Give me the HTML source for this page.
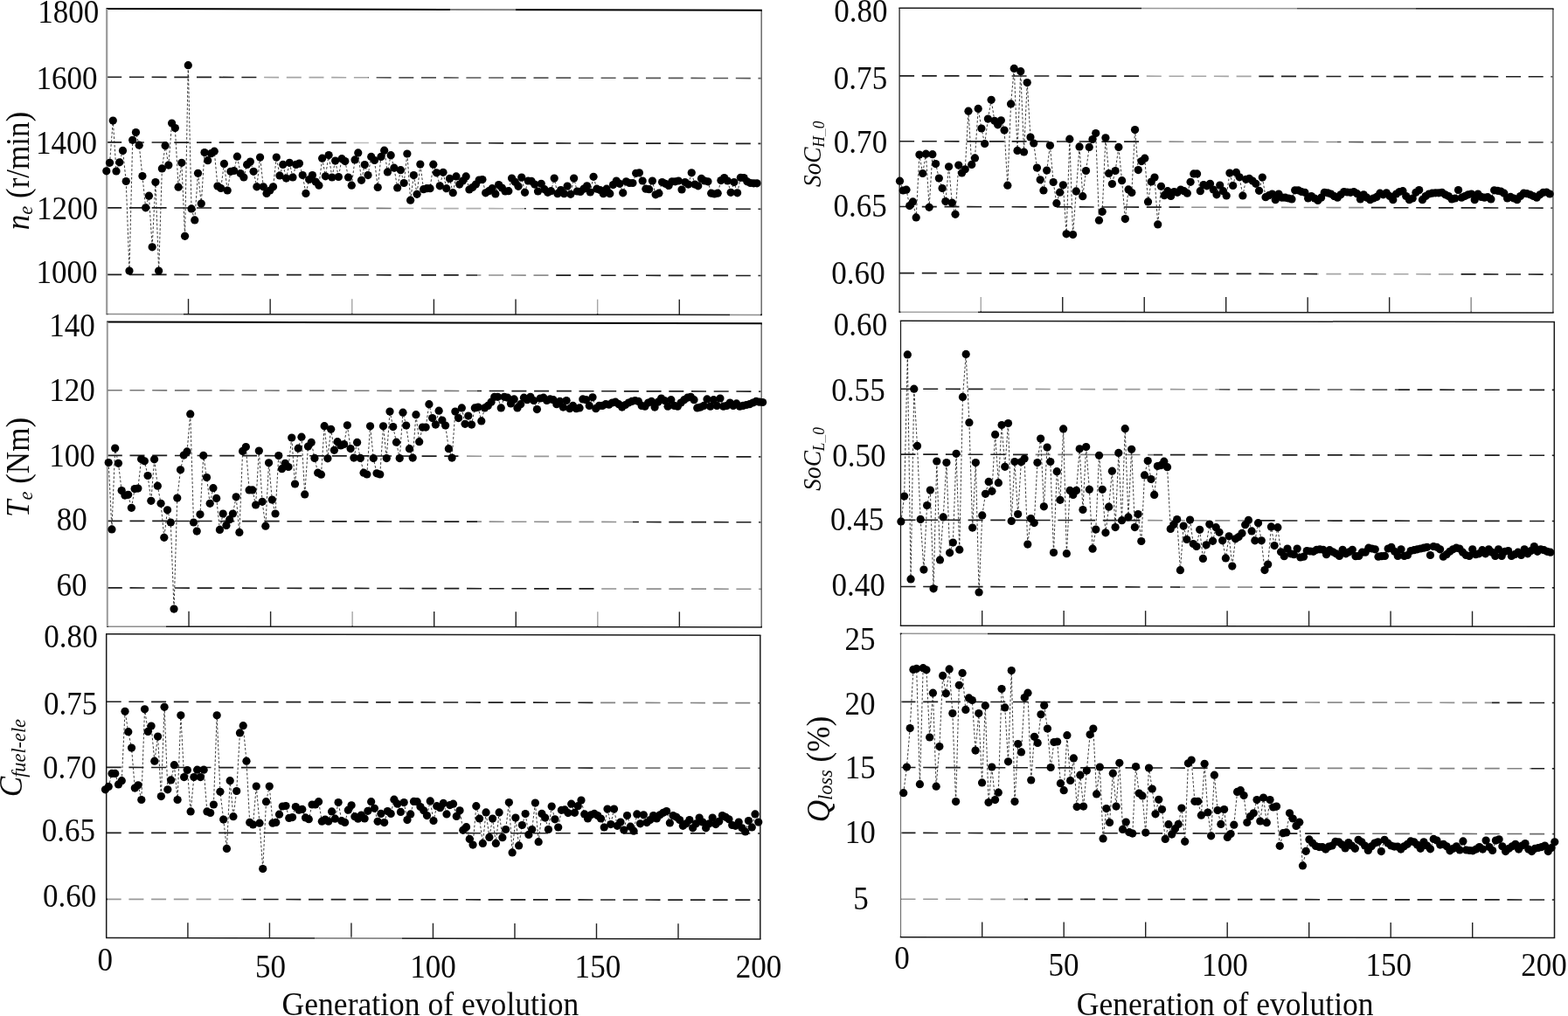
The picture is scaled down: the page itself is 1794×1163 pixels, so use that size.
<!DOCTYPE html>
<html lang="en">
<head>
<meta charset="utf-8">
<title>Generation of evolution</title>
<style>
html,body{margin:0;padding:0;background:#fff;}
body{width:1794px;height:1163px;overflow:hidden;}
svg{display:block;}
text{font-family:"Liberation Serif", "DejaVu Serif", serif;fill:#0a0a0a;}
.i{font-style:italic;}
</style>
</head>
<body>
<svg width="1794" height="1163" viewBox="0 0 1794 1163">
<rect x="0" y="0" width="1794" height="1163" fill="#ffffff"/>
<g id="p1">
<line x1="122.2" y1="88.2" x2="871.2" y2="89.6" stroke="#1e1e1e" stroke-width="1.65" stroke-dasharray="17 8.7" stroke-dashoffset="0"/>
<line x1="122.2" y1="162.9" x2="871.2" y2="164.4" stroke="#1e1e1e" stroke-width="1.65" stroke-dasharray="17 8.7" stroke-dashoffset="0"/>
<line x1="122.2" y1="237.8" x2="871.2" y2="239.3" stroke="#1e1e1e" stroke-width="1.65" stroke-dasharray="17 8.7" stroke-dashoffset="0"/>
<line x1="122.2" y1="314.3" x2="871.2" y2="315.5" stroke="#1e1e1e" stroke-width="1.65" stroke-dasharray="17 8.7" stroke-dashoffset="0"/>
<line x1="215.52" y1="342.11" x2="215.52" y2="359.61" stroke="#222" stroke-width="1.4"/>
<line x1="309.15" y1="342.23" x2="309.15" y2="359.73" stroke="#222" stroke-width="1.4"/>
<line x1="402.77" y1="342.34" x2="402.77" y2="359.84" stroke="#222" stroke-width="1.4"/>
<line x1="496.4" y1="342.45" x2="496.4" y2="359.95" stroke="#222" stroke-width="1.4"/>
<line x1="590.03" y1="342.56" x2="590.03" y2="360.06" stroke="#222" stroke-width="1.4"/>
<line x1="683.65" y1="342.67" x2="683.65" y2="360.17" stroke="#222" stroke-width="1.4"/>
<line x1="777.28" y1="342.79" x2="777.28" y2="360.29" stroke="#222" stroke-width="1.4"/>
<line x1="121.5" y1="10" x2="871.9" y2="11.7" stroke="#000" stroke-width="2.0"/>
<line x1="121.5" y1="359.5" x2="871.9" y2="360.4" stroke="#1a1a1a" stroke-width="1.5"/>
<line x1="122.2" y1="10" x2="122.2" y2="359.5" stroke="#9a9a9a" stroke-width="2.2"/>
<line x1="871.2" y1="11.7" x2="871.2" y2="360.4" stroke="#1a1a1a" stroke-width="1.5"/>
<line x1="300" y1="88.53" x2="421" y2="88.76" stroke="#fff" stroke-opacity="0.6" stroke-width="3.6"/>
<line x1="421" y1="88.76" x2="869.9" y2="89.6" stroke="#fff" stroke-opacity="0.25" stroke-width="3.6"/>
<line x1="405" y1="163.47" x2="450" y2="163.56" stroke="#fff" stroke-opacity="0.7" stroke-width="3.6"/>
<line x1="450" y1="163.56" x2="500" y2="163.66" stroke="#fff" stroke-opacity="0.4" stroke-width="3.6"/>
<line x1="405" y1="238.37" x2="450" y2="238.46" stroke="#fff" stroke-opacity="0.4" stroke-width="3.6"/>
<line x1="450" y1="238.46" x2="600" y2="238.76" stroke="#fff" stroke-opacity="0.65" stroke-width="3.6"/>
<line x1="546" y1="314.98" x2="635" y2="315.12" stroke="#fff" stroke-opacity="0.5" stroke-width="3.6"/>
<line x1="515" y1="10.89" x2="590" y2="11.06" stroke="#fff" stroke-opacity="0.5" stroke-width="3.6"/>
<line x1="123.5" y1="359.5" x2="210" y2="359.61" stroke="#fff" stroke-opacity="0.5" stroke-width="3.6"/>
<line x1="835" y1="360.36" x2="869.9" y2="360.4" stroke="#fff" stroke-opacity="0.5" stroke-width="3.6"/>
<line x1="402.77" y1="341.34" x2="402.77" y2="358.64" stroke="#fff" stroke-opacity="0.6" stroke-width="3.4"/>
<line x1="683.65" y1="341.67" x2="683.65" y2="358.97" stroke="#fff" stroke-opacity="0.6" stroke-width="3.4"/>
<line x1="871.2" y1="12.9" x2="871.2" y2="359.2" stroke="#fff" stroke-opacity="0.35" stroke-width="3.4"/>
<polyline fill="none" stroke="#262626" stroke-width="0.9" stroke-dasharray="2.7 2.1" points="121.8,195.8 125.54,186.3 129.28,138.1 133.02,196 136.76,185.8 140.5,172.4 144.24,207.5 147.98,310.1 151.72,160.3 155.46,151.6 159.2,166.2 162.94,201.6 166.68,237.8 170.42,224.2 174.16,282.8 177.9,208.5 181.64,310.1 185.38,192.9 189.12,166.7 192.86,189.1 196.6,141.1 200.34,146.6 204.08,214.2 207.82,186.3 211.56,270.3 215.3,74.7 219.04,238.9 222.78,251.9 226.52,198.3 230.26,233.1 234,174.5 237.74,183.7 241.48,175.7 245.22,173.2 248.96,213 252.7,215.5 256.44,187.4 260.18,218 263.92,196.3 267.66,195.5 271.4,179.2 275.14,198.5 278.88,203 282.62,188.4 286.36,185.1 290.1,196.3 293.84,213.8 297.58,180.1 301.32,213.8 305.06,221.4 308.8,218 312.54,213.8 316.28,180.1 320.02,201 323.76,188.4 327.5,204.1 331.24,186.3 334.98,203 338.72,188.4 342.46,187.1 346.2,200.5 349.94,221.4 353.68,205.5 357.42,200.5 361.16,208 364.9,212.2 368.64,181.2 372.38,201.8 376.12,177.6 379.86,203 383.6,184.1 387.34,202.5 391.08,181.7 394.82,184.6 398.56,203 402.3,212.2 406.04,182.9 409.78,174.9 413.52,206.3 417.26,188.6 421,200.6 424.74,179.4 428.48,183.5 432.22,214.5 435.96,179.4 439.7,172.2 443.44,196.9 447.18,177.7 450.92,192.2 454.66,215 458.4,194.7 462.14,209.5 465.88,176 469.62,229.2 473.36,200.6 477.1,222.3 480.84,188.1 484.58,216.7 488.32,215.7 492.06,215.7 495.8,188.2 499.54,197.8 503.28,212.8 507.02,197.3 510.76,215.7 514.5,204.4 518.24,220.7 521.98,201.9 525.72,211.1 529.46,207 533.2,201.9 536.94,217 540.68,214.5 544.42,211.1 548.16,206.1 551.9,205.6 555.64,220.8 559.38,218.7 563.12,215.7 566.86,222 570.6,211.6 574.34,215 578.08,219 581.82,218.7 585.56,204.1 589.3,208.3 593.04,213.3 596.78,203.1 600.52,220.3 604.26,207 608,207.3 611.74,211.1 615.48,219 619.22,210.3 622.96,216.7 626.7,220.3 630.44,218.7 634.18,204.1 637.92,221.7 641.66,217.5 645.4,221.7 649.14,213.1 652.88,222.3 656.62,204.1 660.36,219 664.1,219.5 667.84,216.2 671.58,212.8 675.32,220 679.06,202.3 682.8,216.2 686.54,217.5 690.28,221.7 694.02,216.2 697.76,221.7 701.5,211.6 705.24,207 708.98,210.3 712.72,220.8 716.46,207.8 720.2,209.5 723.94,209.5 727.68,198.3 731.42,197.8 735.16,207 738.9,216.2 742.64,216.7 746.38,207 750.12,222.8 753.86,221.2 757.6,208.6 761.34,210.3 765.08,212.5 768.82,207.8 772.56,207.8 776.3,207 780.04,217 783.78,208.6 787.52,211.1 791.26,197.8 795,211.1 798.74,212.8 802.48,204.4 806.22,207 809.96,207.8 813.7,221.2 817.44,222 821.18,221.2 824.92,206.6 828.66,203.6 832.4,207 836.14,220.3 839.88,208.6 843.62,220.8 847.36,203.3 851.1,203.6 854.84,207.8 858.58,209.5 862.32,209.8 866.06,209.8"/>
<g fill="#000"><circle cx="121.8" cy="195.8" r="4.62"/><circle cx="125.54" cy="186.3" r="4.62"/><circle cx="129.28" cy="138.1" r="4.62"/><circle cx="133.02" cy="196" r="4.62"/><circle cx="136.76" cy="185.8" r="4.62"/><circle cx="140.5" cy="172.4" r="4.62"/><circle cx="144.24" cy="207.5" r="4.62"/><circle cx="147.98" cy="310.1" r="4.62"/><circle cx="151.72" cy="160.3" r="4.62"/><circle cx="155.46" cy="151.6" r="4.62"/><circle cx="159.2" cy="166.2" r="4.62"/><circle cx="162.94" cy="201.6" r="4.62"/><circle cx="166.68" cy="237.8" r="4.62"/><circle cx="170.42" cy="224.2" r="4.62"/><circle cx="174.16" cy="282.8" r="4.62"/><circle cx="177.9" cy="208.5" r="4.62"/><circle cx="181.64" cy="310.1" r="4.62"/><circle cx="185.38" cy="192.9" r="4.62"/><circle cx="189.12" cy="166.7" r="4.62"/><circle cx="192.86" cy="189.1" r="4.62"/><circle cx="196.6" cy="141.1" r="4.62"/><circle cx="200.34" cy="146.6" r="4.62"/><circle cx="204.08" cy="214.2" r="4.62"/><circle cx="207.82" cy="186.3" r="4.62"/><circle cx="211.56" cy="270.3" r="4.62"/><circle cx="215.3" cy="74.7" r="4.62"/><circle cx="219.04" cy="238.9" r="4.62"/><circle cx="222.78" cy="251.9" r="4.62"/><circle cx="226.52" cy="198.3" r="4.62"/><circle cx="230.26" cy="233.1" r="4.62"/><circle cx="234" cy="174.5" r="4.62"/><circle cx="237.74" cy="183.7" r="4.62"/><circle cx="241.48" cy="175.7" r="4.62"/><circle cx="245.22" cy="173.2" r="4.62"/><circle cx="248.96" cy="213" r="4.62"/><circle cx="252.7" cy="215.5" r="4.62"/><circle cx="256.44" cy="187.4" r="4.62"/><circle cx="260.18" cy="218" r="4.62"/><circle cx="263.92" cy="196.3" r="4.62"/><circle cx="267.66" cy="195.5" r="4.62"/><circle cx="271.4" cy="179.2" r="4.62"/><circle cx="275.14" cy="198.5" r="4.62"/><circle cx="278.88" cy="203" r="4.62"/><circle cx="282.62" cy="188.4" r="4.62"/><circle cx="286.36" cy="185.1" r="4.62"/><circle cx="290.1" cy="196.3" r="4.62"/><circle cx="293.84" cy="213.8" r="4.62"/><circle cx="297.58" cy="180.1" r="4.62"/><circle cx="301.32" cy="213.8" r="4.62"/><circle cx="305.06" cy="221.4" r="4.62"/><circle cx="308.8" cy="218" r="4.62"/><circle cx="312.54" cy="213.8" r="4.62"/><circle cx="316.28" cy="180.1" r="4.62"/><circle cx="320.02" cy="201" r="4.62"/><circle cx="323.76" cy="188.4" r="4.62"/><circle cx="327.5" cy="204.1" r="4.62"/><circle cx="331.24" cy="186.3" r="4.62"/><circle cx="334.98" cy="203" r="4.62"/><circle cx="338.72" cy="188.4" r="4.62"/><circle cx="342.46" cy="187.1" r="4.62"/><circle cx="346.2" cy="200.5" r="4.62"/><circle cx="349.94" cy="221.4" r="4.62"/><circle cx="353.68" cy="205.5" r="4.62"/><circle cx="357.42" cy="200.5" r="4.62"/><circle cx="361.16" cy="208" r="4.62"/><circle cx="364.9" cy="212.2" r="4.62"/><circle cx="368.64" cy="181.2" r="4.62"/><circle cx="372.38" cy="201.8" r="4.62"/><circle cx="376.12" cy="177.6" r="4.62"/><circle cx="379.86" cy="203" r="4.62"/><circle cx="383.6" cy="184.1" r="4.62"/><circle cx="387.34" cy="202.5" r="4.62"/><circle cx="391.08" cy="181.7" r="4.62"/><circle cx="394.82" cy="184.6" r="4.62"/><circle cx="398.56" cy="203" r="4.62"/><circle cx="402.3" cy="212.2" r="4.62"/><circle cx="406.04" cy="182.9" r="4.62"/><circle cx="409.78" cy="174.9" r="4.62"/><circle cx="413.52" cy="206.3" r="4.62"/><circle cx="417.26" cy="188.6" r="4.62"/><circle cx="421" cy="200.6" r="4.62"/><circle cx="424.74" cy="179.4" r="4.62"/><circle cx="428.48" cy="183.5" r="4.62"/><circle cx="432.22" cy="214.5" r="4.62"/><circle cx="435.96" cy="179.4" r="4.62"/><circle cx="439.7" cy="172.2" r="4.62"/><circle cx="443.44" cy="196.9" r="4.62"/><circle cx="447.18" cy="177.7" r="4.62"/><circle cx="450.92" cy="192.2" r="4.62"/><circle cx="454.66" cy="215" r="4.62"/><circle cx="458.4" cy="194.7" r="4.62"/><circle cx="462.14" cy="209.5" r="4.62"/><circle cx="465.88" cy="176" r="4.62"/><circle cx="469.62" cy="229.2" r="4.62"/><circle cx="473.36" cy="200.6" r="4.62"/><circle cx="477.1" cy="222.3" r="4.62"/><circle cx="480.84" cy="188.1" r="4.62"/><circle cx="484.58" cy="216.7" r="4.62"/><circle cx="488.32" cy="215.7" r="4.62"/><circle cx="492.06" cy="215.7" r="4.62"/><circle cx="495.8" cy="188.2" r="4.62"/><circle cx="499.54" cy="197.8" r="4.62"/><circle cx="503.28" cy="212.8" r="4.62"/><circle cx="507.02" cy="197.3" r="4.62"/><circle cx="510.76" cy="215.7" r="4.62"/><circle cx="514.5" cy="204.4" r="4.62"/><circle cx="518.24" cy="220.7" r="4.62"/><circle cx="521.98" cy="201.9" r="4.62"/><circle cx="525.72" cy="211.1" r="4.62"/><circle cx="529.46" cy="207" r="4.62"/><circle cx="533.2" cy="201.9" r="4.62"/><circle cx="536.94" cy="217" r="4.62"/><circle cx="540.68" cy="214.5" r="4.62"/><circle cx="544.42" cy="211.1" r="4.62"/><circle cx="548.16" cy="206.1" r="4.62"/><circle cx="551.9" cy="205.6" r="4.62"/><circle cx="555.64" cy="220.8" r="4.62"/><circle cx="559.38" cy="218.7" r="4.62"/><circle cx="563.12" cy="215.7" r="4.62"/><circle cx="566.86" cy="222" r="4.62"/><circle cx="570.6" cy="211.6" r="4.62"/><circle cx="574.34" cy="215" r="4.62"/><circle cx="578.08" cy="219" r="4.62"/><circle cx="581.82" cy="218.7" r="4.62"/><circle cx="585.56" cy="204.1" r="4.62"/><circle cx="589.3" cy="208.3" r="4.62"/><circle cx="593.04" cy="213.3" r="4.62"/><circle cx="596.78" cy="203.1" r="4.62"/><circle cx="600.52" cy="220.3" r="4.62"/><circle cx="604.26" cy="207" r="4.62"/><circle cx="608" cy="207.3" r="4.62"/><circle cx="611.74" cy="211.1" r="4.62"/><circle cx="615.48" cy="219" r="4.62"/><circle cx="619.22" cy="210.3" r="4.62"/><circle cx="622.96" cy="216.7" r="4.62"/><circle cx="626.7" cy="220.3" r="4.62"/><circle cx="630.44" cy="218.7" r="4.62"/><circle cx="634.18" cy="204.1" r="4.62"/><circle cx="637.92" cy="221.7" r="4.62"/><circle cx="641.66" cy="217.5" r="4.62"/><circle cx="645.4" cy="221.7" r="4.62"/><circle cx="649.14" cy="213.1" r="4.62"/><circle cx="652.88" cy="222.3" r="4.62"/><circle cx="656.62" cy="204.1" r="4.62"/><circle cx="660.36" cy="219" r="4.62"/><circle cx="664.1" cy="219.5" r="4.62"/><circle cx="667.84" cy="216.2" r="4.62"/><circle cx="671.58" cy="212.8" r="4.62"/><circle cx="675.32" cy="220" r="4.62"/><circle cx="679.06" cy="202.3" r="4.62"/><circle cx="682.8" cy="216.2" r="4.62"/><circle cx="686.54" cy="217.5" r="4.62"/><circle cx="690.28" cy="221.7" r="4.62"/><circle cx="694.02" cy="216.2" r="4.62"/><circle cx="697.76" cy="221.7" r="4.62"/><circle cx="701.5" cy="211.6" r="4.62"/><circle cx="705.24" cy="207" r="4.62"/><circle cx="708.98" cy="210.3" r="4.62"/><circle cx="712.72" cy="220.8" r="4.62"/><circle cx="716.46" cy="207.8" r="4.62"/><circle cx="720.2" cy="209.5" r="4.62"/><circle cx="723.94" cy="209.5" r="4.62"/><circle cx="727.68" cy="198.3" r="4.62"/><circle cx="731.42" cy="197.8" r="4.62"/><circle cx="735.16" cy="207" r="4.62"/><circle cx="738.9" cy="216.2" r="4.62"/><circle cx="742.64" cy="216.7" r="4.62"/><circle cx="746.38" cy="207" r="4.62"/><circle cx="750.12" cy="222.8" r="4.62"/><circle cx="753.86" cy="221.2" r="4.62"/><circle cx="757.6" cy="208.6" r="4.62"/><circle cx="761.34" cy="210.3" r="4.62"/><circle cx="765.08" cy="212.5" r="4.62"/><circle cx="768.82" cy="207.8" r="4.62"/><circle cx="772.56" cy="207.8" r="4.62"/><circle cx="776.3" cy="207" r="4.62"/><circle cx="780.04" cy="217" r="4.62"/><circle cx="783.78" cy="208.6" r="4.62"/><circle cx="787.52" cy="211.1" r="4.62"/><circle cx="791.26" cy="197.8" r="4.62"/><circle cx="795" cy="211.1" r="4.62"/><circle cx="798.74" cy="212.8" r="4.62"/><circle cx="802.48" cy="204.4" r="4.62"/><circle cx="806.22" cy="207" r="4.62"/><circle cx="809.96" cy="207.8" r="4.62"/><circle cx="813.7" cy="221.2" r="4.62"/><circle cx="817.44" cy="222" r="4.62"/><circle cx="821.18" cy="221.2" r="4.62"/><circle cx="824.92" cy="206.6" r="4.62"/><circle cx="828.66" cy="203.6" r="4.62"/><circle cx="832.4" cy="207" r="4.62"/><circle cx="836.14" cy="220.3" r="4.62"/><circle cx="839.88" cy="208.6" r="4.62"/><circle cx="843.62" cy="220.8" r="4.62"/><circle cx="847.36" cy="203.3" r="4.62"/><circle cx="851.1" cy="203.6" r="4.62"/><circle cx="854.84" cy="207.8" r="4.62"/><circle cx="858.58" cy="209.5" r="4.62"/><circle cx="862.32" cy="209.8" r="4.62"/><circle cx="866.06" cy="209.8" r="4.62"/></g>
<text transform="translate(78.3 26) scale(0.93 1)" text-anchor="middle" font-size="37.7">1800</text>
<text transform="translate(76.5 102) scale(0.93 1)" text-anchor="middle" font-size="37.7">1600</text>
<text transform="translate(76 175.8) scale(0.93 1)" text-anchor="middle" font-size="37.7">1400</text>
<text transform="translate(77 250.5) scale(0.93 1)" text-anchor="middle" font-size="37.7">1200</text>
<text transform="translate(76.5 324.3) scale(0.93 1)" text-anchor="middle" font-size="37.7">1000</text>
</g>
<g id="p2">
<line x1="1029.1" y1="86.8" x2="1776.9" y2="87.8" stroke="#1e1e1e" stroke-width="1.65" stroke-dasharray="17 8.7" stroke-dashoffset="0"/>
<line x1="1029.1" y1="161.7" x2="1776.9" y2="162.9" stroke="#1e1e1e" stroke-width="1.65" stroke-dasharray="17 8.7" stroke-dashoffset="0"/>
<line x1="1029.1" y1="236.5" x2="1776.9" y2="238.1" stroke="#1e1e1e" stroke-width="1.65" stroke-dasharray="17 8.7" stroke-dashoffset="0"/>
<line x1="1029.1" y1="312.6" x2="1776.9" y2="314.1" stroke="#1e1e1e" stroke-width="1.65" stroke-dasharray="17 8.7" stroke-dashoffset="0"/>
<line x1="1122.27" y1="339.88" x2="1122.27" y2="357.38" stroke="#222" stroke-width="1.4"/>
<line x1="1215.75" y1="339.95" x2="1215.75" y2="357.45" stroke="#222" stroke-width="1.4"/>
<line x1="1309.23" y1="340.02" x2="1309.23" y2="357.52" stroke="#222" stroke-width="1.4"/>
<line x1="1402.7" y1="340.1" x2="1402.7" y2="357.6" stroke="#222" stroke-width="1.4"/>
<line x1="1496.17" y1="340.18" x2="1496.17" y2="357.68" stroke="#222" stroke-width="1.4"/>
<line x1="1589.65" y1="340.25" x2="1589.65" y2="357.75" stroke="#222" stroke-width="1.4"/>
<line x1="1683.13" y1="340.32" x2="1683.13" y2="357.82" stroke="#222" stroke-width="1.4"/>
<line x1="1028.4" y1="9.2" x2="1777.6" y2="10" stroke="#1a1a1a" stroke-width="1.5"/>
<line x1="1028.4" y1="357.3" x2="1777.6" y2="357.9" stroke="#1a1a1a" stroke-width="1.5"/>
<line x1="1029.1" y1="9.2" x2="1029.1" y2="357.3" stroke="#1a1a1a" stroke-width="1.25"/>
<line x1="1776.9" y1="10" x2="1776.9" y2="357.9" stroke="#1a1a1a" stroke-width="1.5"/>
<line x1="1306" y1="9.5" x2="1484" y2="9.69" stroke="#fff" stroke-opacity="0.55" stroke-width="3.6"/>
<line x1="1484" y1="9.69" x2="1620" y2="9.83" stroke="#fff" stroke-opacity="0.25" stroke-width="3.6"/>
<line x1="1306" y1="87.17" x2="1440" y2="87.35" stroke="#fff" stroke-opacity="0.6" stroke-width="3.6"/>
<line x1="1306" y1="162.14" x2="1530" y2="162.5" stroke="#fff" stroke-opacity="0.5" stroke-width="3.6"/>
<line x1="1530" y1="162.5" x2="1775.6" y2="162.9" stroke="#fff" stroke-opacity="0.25" stroke-width="3.6"/>
<line x1="1350" y1="237.19" x2="1560" y2="237.64" stroke="#fff" stroke-opacity="0.5" stroke-width="3.6"/>
<line x1="1507" y1="313.56" x2="1663" y2="313.87" stroke="#fff" stroke-opacity="0.6" stroke-width="3.6"/>
<line x1="1030.4" y1="357.3" x2="1119" y2="357.37" stroke="#fff" stroke-opacity="0.6" stroke-width="3.6"/>
<line x1="1122.27" y1="338.88" x2="1122.27" y2="356.18" stroke="#fff" stroke-opacity="0.6" stroke-width="3.4"/>
<line x1="1683.13" y1="339.32" x2="1683.13" y2="356.62" stroke="#fff" stroke-opacity="0.45" stroke-width="3.4"/>
<line x1="1776.9" y1="11.2" x2="1776.9" y2="356.7" stroke="#fff" stroke-opacity="0.3" stroke-width="3.4"/>
<polyline fill="none" stroke="#262626" stroke-width="0.9" stroke-dasharray="2.7 2.1" points="1029.5,207.2 1033.24,218 1036.97,217.2 1040.71,235.6 1044.45,230.9 1048.18,248.9 1051.92,177.1 1055.66,198.5 1059.4,176.2 1063.13,237.3 1066.87,176.7 1070.61,187.6 1074.34,204.1 1078.08,215.5 1081.82,230.6 1085.56,190.8 1089.29,232.2 1093.03,245.3 1096.77,189.1 1100.5,198 1104.24,193.8 1107.98,127.2 1111.71,188.4 1115.45,180.9 1119.19,124.4 1122.92,147 1126.66,164.5 1130.4,136.1 1134.14,114.3 1137.87,138.3 1141.61,142.8 1145.35,137.8 1149.08,149.1 1152.82,212.2 1156.56,118.9 1160.3,78.4 1164.03,172.4 1167.77,81.7 1171.51,174 1175.24,94.6 1178.98,157 1182.72,164 1186.45,192.1 1190.19,205.8 1193.93,218 1197.66,195.1 1201.4,166.5 1205.14,208.5 1208.88,232.7 1212.61,220.2 1216.35,211.8 1220.09,267.8 1223.82,159.2 1227.56,268.6 1231.3,218.9 1235.04,167.9 1238.77,224.7 1242.51,195.5 1246.25,168.4 1249.98,159.5 1253.72,152.5 1257.46,252.2 1261.19,242.3 1264.93,157.8 1268.67,198.5 1272.4,210.5 1276.14,195.5 1279.88,168.4 1283.62,206.7 1287.35,250.6 1291.09,216.9 1294.83,220.5 1298.56,148.6 1302.3,194.6 1306.04,184.6 1309.78,181.2 1313.51,230.9 1317.25,208 1320.99,203 1324.72,256.9 1328.46,213.3 1332.2,223.7 1335.93,218.7 1339.67,224.5 1343.41,219.5 1347.14,220.3 1350.88,217 1354.62,218.7 1358.36,221.2 1362.09,208.3 1365.83,198.9 1369.57,198.9 1373.3,218.7 1377.04,211.6 1380.78,212.8 1384.51,210.3 1388.25,217 1391.99,222.8 1395.73,212 1399.46,218.7 1403.2,224 1406.94,198.1 1410.67,212.5 1414.41,197.4 1418.15,202.8 1421.88,224 1425.62,205.3 1429.36,204.4 1433.1,207 1436.83,210.3 1440.57,218.3 1444.31,203.1 1448.04,225.7 1451.78,223.7 1455.52,222 1459.26,228.7 1462.99,222 1466.73,226.2 1470.47,226.2 1474.2,227 1477.94,227.9 1481.68,217.8 1485.41,217.8 1489.15,219.5 1492.89,220.3 1496.62,227 1500.36,224.5 1504.1,227 1507.84,229.5 1511.57,226.2 1515.31,220.3 1519.05,220.8 1522.78,222 1526.52,224.5 1530.26,226.2 1533.99,222.8 1537.73,219.5 1541.47,220 1545.21,220.3 1548.94,219.5 1552.68,221.7 1556.42,227.9 1560.15,222.8 1563.89,226.2 1567.63,228.7 1571.37,227 1575.1,225.4 1578.84,221.2 1582.58,222.8 1586.31,220.8 1590.05,224.5 1593.79,228.7 1597.52,222 1601.26,219.5 1605,218.7 1608.74,224.5 1612.47,228.7 1616.21,227 1619.95,220.3 1623.68,217.5 1627.42,228.7 1631.16,224.5 1634.89,222 1638.63,221.2 1642.37,220.8 1646.11,220.8 1649.84,220.3 1653.58,222.8 1657.32,224.5 1661.05,227.9 1664.79,227 1668.53,217.5 1672.26,226.2 1676,224.5 1679.74,222.8 1683.47,222 1687.21,228.7 1690.95,222 1694.69,225.4 1698.42,226.2 1702.16,225.7 1705.9,227.9 1709.63,217.8 1713.37,218.3 1717.11,219 1720.85,221.2 1724.58,227 1728.32,225.4 1732.06,227 1735.79,228.7 1739.53,224.5 1743.27,221.2 1747,221.7 1750.74,222.8 1754.48,224.5 1758.22,226.2 1761.95,222.8 1765.69,220.3 1769.43,220 1773.16,222"/>
<g fill="#000"><circle cx="1029.5" cy="207.2" r="4.62"/><circle cx="1033.24" cy="218" r="4.62"/><circle cx="1036.97" cy="217.2" r="4.62"/><circle cx="1040.71" cy="235.6" r="4.62"/><circle cx="1044.45" cy="230.9" r="4.62"/><circle cx="1048.18" cy="248.9" r="4.62"/><circle cx="1051.92" cy="177.1" r="4.62"/><circle cx="1055.66" cy="198.5" r="4.62"/><circle cx="1059.4" cy="176.2" r="4.62"/><circle cx="1063.13" cy="237.3" r="4.62"/><circle cx="1066.87" cy="176.7" r="4.62"/><circle cx="1070.61" cy="187.6" r="4.62"/><circle cx="1074.34" cy="204.1" r="4.62"/><circle cx="1078.08" cy="215.5" r="4.62"/><circle cx="1081.82" cy="230.6" r="4.62"/><circle cx="1085.56" cy="190.8" r="4.62"/><circle cx="1089.29" cy="232.2" r="4.62"/><circle cx="1093.03" cy="245.3" r="4.62"/><circle cx="1096.77" cy="189.1" r="4.62"/><circle cx="1100.5" cy="198" r="4.62"/><circle cx="1104.24" cy="193.8" r="4.62"/><circle cx="1107.98" cy="127.2" r="4.62"/><circle cx="1111.71" cy="188.4" r="4.62"/><circle cx="1115.45" cy="180.9" r="4.62"/><circle cx="1119.19" cy="124.4" r="4.62"/><circle cx="1122.92" cy="147" r="4.62"/><circle cx="1126.66" cy="164.5" r="4.62"/><circle cx="1130.4" cy="136.1" r="4.62"/><circle cx="1134.14" cy="114.3" r="4.62"/><circle cx="1137.87" cy="138.3" r="4.62"/><circle cx="1141.61" cy="142.8" r="4.62"/><circle cx="1145.35" cy="137.8" r="4.62"/><circle cx="1149.08" cy="149.1" r="4.62"/><circle cx="1152.82" cy="212.2" r="4.62"/><circle cx="1156.56" cy="118.9" r="4.62"/><circle cx="1160.3" cy="78.4" r="4.62"/><circle cx="1164.03" cy="172.4" r="4.62"/><circle cx="1167.77" cy="81.7" r="4.62"/><circle cx="1171.51" cy="174" r="4.62"/><circle cx="1175.24" cy="94.6" r="4.62"/><circle cx="1178.98" cy="157" r="4.62"/><circle cx="1182.72" cy="164" r="4.62"/><circle cx="1186.45" cy="192.1" r="4.62"/><circle cx="1190.19" cy="205.8" r="4.62"/><circle cx="1193.93" cy="218" r="4.62"/><circle cx="1197.66" cy="195.1" r="4.62"/><circle cx="1201.4" cy="166.5" r="4.62"/><circle cx="1205.14" cy="208.5" r="4.62"/><circle cx="1208.88" cy="232.7" r="4.62"/><circle cx="1212.61" cy="220.2" r="4.62"/><circle cx="1216.35" cy="211.8" r="4.62"/><circle cx="1220.09" cy="267.8" r="4.62"/><circle cx="1223.82" cy="159.2" r="4.62"/><circle cx="1227.56" cy="268.6" r="4.62"/><circle cx="1231.3" cy="218.9" r="4.62"/><circle cx="1235.04" cy="167.9" r="4.62"/><circle cx="1238.77" cy="224.7" r="4.62"/><circle cx="1242.51" cy="195.5" r="4.62"/><circle cx="1246.25" cy="168.4" r="4.62"/><circle cx="1249.98" cy="159.5" r="4.62"/><circle cx="1253.72" cy="152.5" r="4.62"/><circle cx="1257.46" cy="252.2" r="4.62"/><circle cx="1261.19" cy="242.3" r="4.62"/><circle cx="1264.93" cy="157.8" r="4.62"/><circle cx="1268.67" cy="198.5" r="4.62"/><circle cx="1272.4" cy="210.5" r="4.62"/><circle cx="1276.14" cy="195.5" r="4.62"/><circle cx="1279.88" cy="168.4" r="4.62"/><circle cx="1283.62" cy="206.7" r="4.62"/><circle cx="1287.35" cy="250.6" r="4.62"/><circle cx="1291.09" cy="216.9" r="4.62"/><circle cx="1294.83" cy="220.5" r="4.62"/><circle cx="1298.56" cy="148.6" r="4.62"/><circle cx="1302.3" cy="194.6" r="4.62"/><circle cx="1306.04" cy="184.6" r="4.62"/><circle cx="1309.78" cy="181.2" r="4.62"/><circle cx="1313.51" cy="230.9" r="4.62"/><circle cx="1317.25" cy="208" r="4.62"/><circle cx="1320.99" cy="203" r="4.62"/><circle cx="1324.72" cy="256.9" r="4.62"/><circle cx="1328.46" cy="213.3" r="4.62"/><circle cx="1332.2" cy="223.7" r="4.62"/><circle cx="1335.93" cy="218.7" r="4.62"/><circle cx="1339.67" cy="224.5" r="4.62"/><circle cx="1343.41" cy="219.5" r="4.62"/><circle cx="1347.14" cy="220.3" r="4.62"/><circle cx="1350.88" cy="217" r="4.62"/><circle cx="1354.62" cy="218.7" r="4.62"/><circle cx="1358.36" cy="221.2" r="4.62"/><circle cx="1362.09" cy="208.3" r="4.62"/><circle cx="1365.83" cy="198.9" r="4.62"/><circle cx="1369.57" cy="198.9" r="4.62"/><circle cx="1373.3" cy="218.7" r="4.62"/><circle cx="1377.04" cy="211.6" r="4.62"/><circle cx="1380.78" cy="212.8" r="4.62"/><circle cx="1384.51" cy="210.3" r="4.62"/><circle cx="1388.25" cy="217" r="4.62"/><circle cx="1391.99" cy="222.8" r="4.62"/><circle cx="1395.73" cy="212" r="4.62"/><circle cx="1399.46" cy="218.7" r="4.62"/><circle cx="1403.2" cy="224" r="4.62"/><circle cx="1406.94" cy="198.1" r="4.62"/><circle cx="1410.67" cy="212.5" r="4.62"/><circle cx="1414.41" cy="197.4" r="4.62"/><circle cx="1418.15" cy="202.8" r="4.62"/><circle cx="1421.88" cy="224" r="4.62"/><circle cx="1425.62" cy="205.3" r="4.62"/><circle cx="1429.36" cy="204.4" r="4.62"/><circle cx="1433.1" cy="207" r="4.62"/><circle cx="1436.83" cy="210.3" r="4.62"/><circle cx="1440.57" cy="218.3" r="4.62"/><circle cx="1444.31" cy="203.1" r="4.62"/><circle cx="1448.04" cy="225.7" r="4.62"/><circle cx="1451.78" cy="223.7" r="4.62"/><circle cx="1455.52" cy="222" r="4.62"/><circle cx="1459.26" cy="228.7" r="4.62"/><circle cx="1462.99" cy="222" r="4.62"/><circle cx="1466.73" cy="226.2" r="4.62"/><circle cx="1470.47" cy="226.2" r="4.62"/><circle cx="1474.2" cy="227" r="4.62"/><circle cx="1477.94" cy="227.9" r="4.62"/><circle cx="1481.68" cy="217.8" r="4.62"/><circle cx="1485.41" cy="217.8" r="4.62"/><circle cx="1489.15" cy="219.5" r="4.62"/><circle cx="1492.89" cy="220.3" r="4.62"/><circle cx="1496.62" cy="227" r="4.62"/><circle cx="1500.36" cy="224.5" r="4.62"/><circle cx="1504.1" cy="227" r="4.62"/><circle cx="1507.84" cy="229.5" r="4.62"/><circle cx="1511.57" cy="226.2" r="4.62"/><circle cx="1515.31" cy="220.3" r="4.62"/><circle cx="1519.05" cy="220.8" r="4.62"/><circle cx="1522.78" cy="222" r="4.62"/><circle cx="1526.52" cy="224.5" r="4.62"/><circle cx="1530.26" cy="226.2" r="4.62"/><circle cx="1533.99" cy="222.8" r="4.62"/><circle cx="1537.73" cy="219.5" r="4.62"/><circle cx="1541.47" cy="220" r="4.62"/><circle cx="1545.21" cy="220.3" r="4.62"/><circle cx="1548.94" cy="219.5" r="4.62"/><circle cx="1552.68" cy="221.7" r="4.62"/><circle cx="1556.42" cy="227.9" r="4.62"/><circle cx="1560.15" cy="222.8" r="4.62"/><circle cx="1563.89" cy="226.2" r="4.62"/><circle cx="1567.63" cy="228.7" r="4.62"/><circle cx="1571.37" cy="227" r="4.62"/><circle cx="1575.1" cy="225.4" r="4.62"/><circle cx="1578.84" cy="221.2" r="4.62"/><circle cx="1582.58" cy="222.8" r="4.62"/><circle cx="1586.31" cy="220.8" r="4.62"/><circle cx="1590.05" cy="224.5" r="4.62"/><circle cx="1593.79" cy="228.7" r="4.62"/><circle cx="1597.52" cy="222" r="4.62"/><circle cx="1601.26" cy="219.5" r="4.62"/><circle cx="1605" cy="218.7" r="4.62"/><circle cx="1608.74" cy="224.5" r="4.62"/><circle cx="1612.47" cy="228.7" r="4.62"/><circle cx="1616.21" cy="227" r="4.62"/><circle cx="1619.95" cy="220.3" r="4.62"/><circle cx="1623.68" cy="217.5" r="4.62"/><circle cx="1627.42" cy="228.7" r="4.62"/><circle cx="1631.16" cy="224.5" r="4.62"/><circle cx="1634.89" cy="222" r="4.62"/><circle cx="1638.63" cy="221.2" r="4.62"/><circle cx="1642.37" cy="220.8" r="4.62"/><circle cx="1646.11" cy="220.8" r="4.62"/><circle cx="1649.84" cy="220.3" r="4.62"/><circle cx="1653.58" cy="222.8" r="4.62"/><circle cx="1657.32" cy="224.5" r="4.62"/><circle cx="1661.05" cy="227.9" r="4.62"/><circle cx="1664.79" cy="227" r="4.62"/><circle cx="1668.53" cy="217.5" r="4.62"/><circle cx="1672.26" cy="226.2" r="4.62"/><circle cx="1676" cy="224.5" r="4.62"/><circle cx="1679.74" cy="222.8" r="4.62"/><circle cx="1683.47" cy="222" r="4.62"/><circle cx="1687.21" cy="228.7" r="4.62"/><circle cx="1690.95" cy="222" r="4.62"/><circle cx="1694.69" cy="225.4" r="4.62"/><circle cx="1698.42" cy="226.2" r="4.62"/><circle cx="1702.16" cy="225.7" r="4.62"/><circle cx="1705.9" cy="227.9" r="4.62"/><circle cx="1709.63" cy="217.8" r="4.62"/><circle cx="1713.37" cy="218.3" r="4.62"/><circle cx="1717.11" cy="219" r="4.62"/><circle cx="1720.85" cy="221.2" r="4.62"/><circle cx="1724.58" cy="227" r="4.62"/><circle cx="1728.32" cy="225.4" r="4.62"/><circle cx="1732.06" cy="227" r="4.62"/><circle cx="1735.79" cy="228.7" r="4.62"/><circle cx="1739.53" cy="224.5" r="4.62"/><circle cx="1743.27" cy="221.2" r="4.62"/><circle cx="1747" cy="221.7" r="4.62"/><circle cx="1750.74" cy="222.8" r="4.62"/><circle cx="1754.48" cy="224.5" r="4.62"/><circle cx="1758.22" cy="226.2" r="4.62"/><circle cx="1761.95" cy="222.8" r="4.62"/><circle cx="1765.69" cy="220.3" r="4.62"/><circle cx="1769.43" cy="220" r="4.62"/><circle cx="1773.16" cy="222" r="4.62"/></g>
<text transform="translate(984.8 25) scale(0.93 1)" text-anchor="middle" font-size="37.7">0.80</text>
<text transform="translate(984.5 101.6) scale(0.93 1)" text-anchor="middle" font-size="37.7">0.75</text>
<text transform="translate(984.5 174.5) scale(0.93 1)" text-anchor="middle" font-size="37.7">0.70</text>
<text transform="translate(984.2 247.7) scale(0.93 1)" text-anchor="middle" font-size="37.7">0.65</text>
<text transform="translate(982 325.3) scale(0.93 1)" text-anchor="middle" font-size="37.7">0.60</text>
</g>
<g id="p3">
<line x1="122.8" y1="446.7" x2="871.2" y2="448.1" stroke="#1e1e1e" stroke-width="1.65" stroke-dasharray="17 8.7" stroke-dashoffset="0"/>
<line x1="122.8" y1="521.3" x2="871.2" y2="522.9" stroke="#1e1e1e" stroke-width="1.65" stroke-dasharray="17 8.7" stroke-dashoffset="0"/>
<line x1="122.8" y1="596.3" x2="871.2" y2="597.8" stroke="#1e1e1e" stroke-width="1.65" stroke-dasharray="17 8.7" stroke-dashoffset="0"/>
<line x1="122.8" y1="672.9" x2="871.2" y2="674.3" stroke="#1e1e1e" stroke-width="1.65" stroke-dasharray="17 8.7" stroke-dashoffset="0"/>
<line x1="216.05" y1="699.79" x2="216.05" y2="717.29" stroke="#222" stroke-width="1.4"/>
<line x1="309.6" y1="699.88" x2="309.6" y2="717.38" stroke="#222" stroke-width="1.4"/>
<line x1="403.15" y1="699.96" x2="403.15" y2="717.46" stroke="#222" stroke-width="1.4"/>
<line x1="496.7" y1="700.05" x2="496.7" y2="717.55" stroke="#222" stroke-width="1.4"/>
<line x1="590.25" y1="700.14" x2="590.25" y2="717.64" stroke="#222" stroke-width="1.4"/>
<line x1="683.8" y1="700.23" x2="683.8" y2="717.73" stroke="#222" stroke-width="1.4"/>
<line x1="777.35" y1="700.31" x2="777.35" y2="717.81" stroke="#222" stroke-width="1.4"/>
<line x1="122.1" y1="368.5" x2="871.9" y2="370.3" stroke="#000" stroke-width="2.0"/>
<line x1="122.1" y1="717.2" x2="871.9" y2="717.9" stroke="#1a1a1a" stroke-width="1.5"/>
<line x1="122.8" y1="368.5" x2="122.8" y2="717.2" stroke="#9a9a9a" stroke-width="2.0"/>
<line x1="871.2" y1="370.3" x2="871.2" y2="717.9" stroke="#1a1a1a" stroke-width="1.5"/>
<line x1="124.1" y1="446.7" x2="546" y2="447.49" stroke="#fff" stroke-opacity="0.4" stroke-width="3.6"/>
<line x1="524" y1="522.16" x2="680" y2="522.49" stroke="#fff" stroke-opacity="0.55" stroke-width="3.6"/>
<line x1="546" y1="597.15" x2="724" y2="597.5" stroke="#fff" stroke-opacity="0.5" stroke-width="3.6"/>
<line x1="680" y1="673.94" x2="869.9" y2="674.3" stroke="#fff" stroke-opacity="0.5" stroke-width="3.6"/>
<line x1="124.1" y1="717.2" x2="190" y2="717.26" stroke="#fff" stroke-opacity="0.5" stroke-width="3.6"/>
<line x1="403.15" y1="698.96" x2="403.15" y2="716.26" stroke="#fff" stroke-opacity="0.6" stroke-width="3.4"/>
<line x1="683.8" y1="699.23" x2="683.8" y2="716.52" stroke="#fff" stroke-opacity="0.6" stroke-width="3.4"/>
<line x1="871.2" y1="371.5" x2="871.2" y2="716.7" stroke="#fff" stroke-opacity="0.35" stroke-width="3.4"/>
<polyline fill="none" stroke="#262626" stroke-width="0.9" stroke-dasharray="2.7 2.1" points="124.2,529.5 127.94,605.9 131.68,513.1 135.43,530.3 139.17,561.6 142.91,567.1 146.65,566.3 150.39,581.3 154.14,559.6 157.88,559.1 161.62,525.6 165.36,527.8 169.1,544.5 172.85,573.3 176.59,525.8 180.33,556.2 184.07,576.3 187.81,615.3 191.56,583.8 195.3,598 199.04,697.1 202.78,570.1 206.52,537.8 210.27,521.1 214.01,516.9 217.75,473.9 221.49,598 225.23,608.1 228.98,588.8 232.72,521.4 236.46,546.5 240.2,576.3 243.94,558.7 247.69,570.4 251.43,606.4 255.17,588 258.91,601.4 262.65,594.7 266.4,588 270.14,568.8 273.88,609.4 277.62,516.4 281.36,511.6 285.11,560.9 288.85,560.9 292.59,578 296.33,516.1 300.07,574.3 303.82,602.2 307.56,529.8 311.3,572.1 315.04,588 318.78,521.6 322.53,536.7 326.27,530.3 330.01,534.5 333.75,501 337.49,554 341.24,513.2 344.98,500.2 348.72,565.9 352.46,511.1 356.2,506.4 359.95,524.4 363.69,541.2 367.43,543.2 371.17,487.7 374.91,524.8 378.66,491.3 382.4,515.3 386.14,505.7 389.88,509.9 393.62,508.6 397.37,486.8 401.11,513.6 404.85,524.1 408.59,506.4 412.33,524.4 416.08,541.2 419.82,543 423.56,487.8 427.3,524.6 431.04,541.8 434.79,543 438.53,487.8 442.27,524.6 446.01,471.1 449.75,488.6 453.5,506.2 457.24,524.6 460.98,472.2 464.72,487 468.46,513.7 472.21,524.1 475.95,474.7 479.69,505.7 483.43,489.1 487.17,489.1 490.92,462.7 494.66,478.6 498.4,486.1 502.14,470.2 505.88,481.1 509.63,487 513.37,513.7 517.11,524.1 520.85,471.1 524.59,478.6 528.34,466.9 532.08,485.3 535.82,476.1 539.56,486.1 543.3,466.9 547.05,466.1 550.79,481.9 554.53,466.9 558.27,464.4 562.01,460.2 565.76,454.3 569.5,454.3 573.24,466.9 576.98,454.3 580.72,455.2 584.47,461.9 588.21,456.9 591.95,466.9 595.69,462.7 599.43,455.2 603.18,457.7 606.92,454.3 610.66,458.5 614.4,468.6 618.14,456 621.89,455.2 625.63,458.5 629.37,456.9 633.11,457.7 636.85,462.7 640.6,459.4 644.34,466.1 648.08,458.5 651.82,467.7 655.56,464.4 659.31,467.7 663.05,466.9 666.79,456.9 670.53,457.7 674.27,464.4 678.02,454.8 681.76,467.7 685.5,464.4 689.24,464.4 692.98,462.7 696.73,463.2 700.47,461 704.21,460.2 707.95,462.7 711.69,466.1 715.44,463.5 719.18,461 722.92,459.4 726.66,458.5 730.4,459.4 734.15,464.4 737.89,465.2 741.63,461 745.37,459.4 749.11,466.1 752.86,460.2 756.6,456 760.34,458.5 764.08,465.2 767.82,457.7 771.57,464.4 775.31,465.2 779.05,461 782.79,457.7 786.53,455.2 790.28,454.3 794.02,457.7 797.76,466.9 801.5,466.1 805.24,464.4 808.99,456.9 812.73,465.2 816.47,457.7 820.21,464.4 823.95,456 827.7,465.2 831.44,464.4 835.18,461 838.92,464.4 842.66,461.9 846.41,465.2 850.15,464.4 853.89,463.5 857.63,462.7 861.37,461 865.12,459.4 868.86,460.2 872.6,460.5"/>
<g fill="#000"><circle cx="124.2" cy="529.5" r="4.62"/><circle cx="127.94" cy="605.9" r="4.62"/><circle cx="131.68" cy="513.1" r="4.62"/><circle cx="135.43" cy="530.3" r="4.62"/><circle cx="139.17" cy="561.6" r="4.62"/><circle cx="142.91" cy="567.1" r="4.62"/><circle cx="146.65" cy="566.3" r="4.62"/><circle cx="150.39" cy="581.3" r="4.62"/><circle cx="154.14" cy="559.6" r="4.62"/><circle cx="157.88" cy="559.1" r="4.62"/><circle cx="161.62" cy="525.6" r="4.62"/><circle cx="165.36" cy="527.8" r="4.62"/><circle cx="169.1" cy="544.5" r="4.62"/><circle cx="172.85" cy="573.3" r="4.62"/><circle cx="176.59" cy="525.8" r="4.62"/><circle cx="180.33" cy="556.2" r="4.62"/><circle cx="184.07" cy="576.3" r="4.62"/><circle cx="187.81" cy="615.3" r="4.62"/><circle cx="191.56" cy="583.8" r="4.62"/><circle cx="195.3" cy="598" r="4.62"/><circle cx="199.04" cy="697.1" r="4.62"/><circle cx="202.78" cy="570.1" r="4.62"/><circle cx="206.52" cy="537.8" r="4.62"/><circle cx="210.27" cy="521.1" r="4.62"/><circle cx="214.01" cy="516.9" r="4.62"/><circle cx="217.75" cy="473.9" r="4.62"/><circle cx="221.49" cy="598" r="4.62"/><circle cx="225.23" cy="608.1" r="4.62"/><circle cx="228.98" cy="588.8" r="4.62"/><circle cx="232.72" cy="521.4" r="4.62"/><circle cx="236.46" cy="546.5" r="4.62"/><circle cx="240.2" cy="576.3" r="4.62"/><circle cx="243.94" cy="558.7" r="4.62"/><circle cx="247.69" cy="570.4" r="4.62"/><circle cx="251.43" cy="606.4" r="4.62"/><circle cx="255.17" cy="588" r="4.62"/><circle cx="258.91" cy="601.4" r="4.62"/><circle cx="262.65" cy="594.7" r="4.62"/><circle cx="266.4" cy="588" r="4.62"/><circle cx="270.14" cy="568.8" r="4.62"/><circle cx="273.88" cy="609.4" r="4.62"/><circle cx="277.62" cy="516.4" r="4.62"/><circle cx="281.36" cy="511.6" r="4.62"/><circle cx="285.11" cy="560.9" r="4.62"/><circle cx="288.85" cy="560.9" r="4.62"/><circle cx="292.59" cy="578" r="4.62"/><circle cx="296.33" cy="516.1" r="4.62"/><circle cx="300.07" cy="574.3" r="4.62"/><circle cx="303.82" cy="602.2" r="4.62"/><circle cx="307.56" cy="529.8" r="4.62"/><circle cx="311.3" cy="572.1" r="4.62"/><circle cx="315.04" cy="588" r="4.62"/><circle cx="318.78" cy="521.6" r="4.62"/><circle cx="322.53" cy="536.7" r="4.62"/><circle cx="326.27" cy="530.3" r="4.62"/><circle cx="330.01" cy="534.5" r="4.62"/><circle cx="333.75" cy="501" r="4.62"/><circle cx="337.49" cy="554" r="4.62"/><circle cx="341.24" cy="513.2" r="4.62"/><circle cx="344.98" cy="500.2" r="4.62"/><circle cx="348.72" cy="565.9" r="4.62"/><circle cx="352.46" cy="511.1" r="4.62"/><circle cx="356.2" cy="506.4" r="4.62"/><circle cx="359.95" cy="524.4" r="4.62"/><circle cx="363.69" cy="541.2" r="4.62"/><circle cx="367.43" cy="543.2" r="4.62"/><circle cx="371.17" cy="487.7" r="4.62"/><circle cx="374.91" cy="524.8" r="4.62"/><circle cx="378.66" cy="491.3" r="4.62"/><circle cx="382.4" cy="515.3" r="4.62"/><circle cx="386.14" cy="505.7" r="4.62"/><circle cx="389.88" cy="509.9" r="4.62"/><circle cx="393.62" cy="508.6" r="4.62"/><circle cx="397.37" cy="486.8" r="4.62"/><circle cx="401.11" cy="513.6" r="4.62"/><circle cx="404.85" cy="524.1" r="4.62"/><circle cx="408.59" cy="506.4" r="4.62"/><circle cx="412.33" cy="524.4" r="4.62"/><circle cx="416.08" cy="541.2" r="4.62"/><circle cx="419.82" cy="543" r="4.62"/><circle cx="423.56" cy="487.8" r="4.62"/><circle cx="427.3" cy="524.6" r="4.62"/><circle cx="431.04" cy="541.8" r="4.62"/><circle cx="434.79" cy="543" r="4.62"/><circle cx="438.53" cy="487.8" r="4.62"/><circle cx="442.27" cy="524.6" r="4.62"/><circle cx="446.01" cy="471.1" r="4.62"/><circle cx="449.75" cy="488.6" r="4.62"/><circle cx="453.5" cy="506.2" r="4.62"/><circle cx="457.24" cy="524.6" r="4.62"/><circle cx="460.98" cy="472.2" r="4.62"/><circle cx="464.72" cy="487" r="4.62"/><circle cx="468.46" cy="513.7" r="4.62"/><circle cx="472.21" cy="524.1" r="4.62"/><circle cx="475.95" cy="474.7" r="4.62"/><circle cx="479.69" cy="505.7" r="4.62"/><circle cx="483.43" cy="489.1" r="4.62"/><circle cx="487.17" cy="489.1" r="4.62"/><circle cx="490.92" cy="462.7" r="4.62"/><circle cx="494.66" cy="478.6" r="4.62"/><circle cx="498.4" cy="486.1" r="4.62"/><circle cx="502.14" cy="470.2" r="4.62"/><circle cx="505.88" cy="481.1" r="4.62"/><circle cx="509.63" cy="487" r="4.62"/><circle cx="513.37" cy="513.7" r="4.62"/><circle cx="517.11" cy="524.1" r="4.62"/><circle cx="520.85" cy="471.1" r="4.62"/><circle cx="524.59" cy="478.6" r="4.62"/><circle cx="528.34" cy="466.9" r="4.62"/><circle cx="532.08" cy="485.3" r="4.62"/><circle cx="535.82" cy="476.1" r="4.62"/><circle cx="539.56" cy="486.1" r="4.62"/><circle cx="543.3" cy="466.9" r="4.62"/><circle cx="547.05" cy="466.1" r="4.62"/><circle cx="550.79" cy="481.9" r="4.62"/><circle cx="554.53" cy="466.9" r="4.62"/><circle cx="558.27" cy="464.4" r="4.62"/><circle cx="562.01" cy="460.2" r="4.62"/><circle cx="565.76" cy="454.3" r="4.62"/><circle cx="569.5" cy="454.3" r="4.62"/><circle cx="573.24" cy="466.9" r="4.62"/><circle cx="576.98" cy="454.3" r="4.62"/><circle cx="580.72" cy="455.2" r="4.62"/><circle cx="584.47" cy="461.9" r="4.62"/><circle cx="588.21" cy="456.9" r="4.62"/><circle cx="591.95" cy="466.9" r="4.62"/><circle cx="595.69" cy="462.7" r="4.62"/><circle cx="599.43" cy="455.2" r="4.62"/><circle cx="603.18" cy="457.7" r="4.62"/><circle cx="606.92" cy="454.3" r="4.62"/><circle cx="610.66" cy="458.5" r="4.62"/><circle cx="614.4" cy="468.6" r="4.62"/><circle cx="618.14" cy="456" r="4.62"/><circle cx="621.89" cy="455.2" r="4.62"/><circle cx="625.63" cy="458.5" r="4.62"/><circle cx="629.37" cy="456.9" r="4.62"/><circle cx="633.11" cy="457.7" r="4.62"/><circle cx="636.85" cy="462.7" r="4.62"/><circle cx="640.6" cy="459.4" r="4.62"/><circle cx="644.34" cy="466.1" r="4.62"/><circle cx="648.08" cy="458.5" r="4.62"/><circle cx="651.82" cy="467.7" r="4.62"/><circle cx="655.56" cy="464.4" r="4.62"/><circle cx="659.31" cy="467.7" r="4.62"/><circle cx="663.05" cy="466.9" r="4.62"/><circle cx="666.79" cy="456.9" r="4.62"/><circle cx="670.53" cy="457.7" r="4.62"/><circle cx="674.27" cy="464.4" r="4.62"/><circle cx="678.02" cy="454.8" r="4.62"/><circle cx="681.76" cy="467.7" r="4.62"/><circle cx="685.5" cy="464.4" r="4.62"/><circle cx="689.24" cy="464.4" r="4.62"/><circle cx="692.98" cy="462.7" r="4.62"/><circle cx="696.73" cy="463.2" r="4.62"/><circle cx="700.47" cy="461" r="4.62"/><circle cx="704.21" cy="460.2" r="4.62"/><circle cx="707.95" cy="462.7" r="4.62"/><circle cx="711.69" cy="466.1" r="4.62"/><circle cx="715.44" cy="463.5" r="4.62"/><circle cx="719.18" cy="461" r="4.62"/><circle cx="722.92" cy="459.4" r="4.62"/><circle cx="726.66" cy="458.5" r="4.62"/><circle cx="730.4" cy="459.4" r="4.62"/><circle cx="734.15" cy="464.4" r="4.62"/><circle cx="737.89" cy="465.2" r="4.62"/><circle cx="741.63" cy="461" r="4.62"/><circle cx="745.37" cy="459.4" r="4.62"/><circle cx="749.11" cy="466.1" r="4.62"/><circle cx="752.86" cy="460.2" r="4.62"/><circle cx="756.6" cy="456" r="4.62"/><circle cx="760.34" cy="458.5" r="4.62"/><circle cx="764.08" cy="465.2" r="4.62"/><circle cx="767.82" cy="457.7" r="4.62"/><circle cx="771.57" cy="464.4" r="4.62"/><circle cx="775.31" cy="465.2" r="4.62"/><circle cx="779.05" cy="461" r="4.62"/><circle cx="782.79" cy="457.7" r="4.62"/><circle cx="786.53" cy="455.2" r="4.62"/><circle cx="790.28" cy="454.3" r="4.62"/><circle cx="794.02" cy="457.7" r="4.62"/><circle cx="797.76" cy="466.9" r="4.62"/><circle cx="801.5" cy="466.1" r="4.62"/><circle cx="805.24" cy="464.4" r="4.62"/><circle cx="808.99" cy="456.9" r="4.62"/><circle cx="812.73" cy="465.2" r="4.62"/><circle cx="816.47" cy="457.7" r="4.62"/><circle cx="820.21" cy="464.4" r="4.62"/><circle cx="823.95" cy="456" r="4.62"/><circle cx="827.7" cy="465.2" r="4.62"/><circle cx="831.44" cy="464.4" r="4.62"/><circle cx="835.18" cy="461" r="4.62"/><circle cx="838.92" cy="464.4" r="4.62"/><circle cx="842.66" cy="461.9" r="4.62"/><circle cx="846.41" cy="465.2" r="4.62"/><circle cx="850.15" cy="464.4" r="4.62"/><circle cx="853.89" cy="463.5" r="4.62"/><circle cx="857.63" cy="462.7" r="4.62"/><circle cx="861.37" cy="461" r="4.62"/><circle cx="865.12" cy="459.4" r="4.62"/><circle cx="868.86" cy="460.2" r="4.62"/><circle cx="872.6" cy="460.5" r="4.62"/></g>
<text transform="translate(82.6 384.5) scale(0.93 1)" text-anchor="middle" font-size="37.7">140</text>
<text transform="translate(82.6 459.3) scale(0.93 1)" text-anchor="middle" font-size="37.7">120</text>
<text transform="translate(82.6 534) scale(0.93 1)" text-anchor="middle" font-size="37.7">100</text>
<text transform="translate(82.3 606.6) scale(0.93 1)" text-anchor="middle" font-size="37.7">80</text>
<text transform="translate(82 682.4) scale(0.93 1)" text-anchor="middle" font-size="37.7">60</text>
</g>
<g id="p4">
<line x1="1030.5" y1="445.2" x2="1778.3" y2="446.4" stroke="#1e1e1e" stroke-width="1.65" stroke-dasharray="17 8.7" stroke-dashoffset="0"/>
<line x1="1030.5" y1="520.1" x2="1778.3" y2="521.3" stroke="#1e1e1e" stroke-width="1.65" stroke-dasharray="17 8.7" stroke-dashoffset="0"/>
<line x1="1030.5" y1="595.2" x2="1778.3" y2="596.5" stroke="#1e1e1e" stroke-width="1.65" stroke-dasharray="17 8.7" stroke-dashoffset="0"/>
<line x1="1030.5" y1="671.5" x2="1778.3" y2="672.8" stroke="#1e1e1e" stroke-width="1.65" stroke-dasharray="17 8.7" stroke-dashoffset="0"/>
<line x1="1123.67" y1="698.91" x2="1123.67" y2="716.41" stroke="#222" stroke-width="1.4"/>
<line x1="1217.15" y1="699.02" x2="1217.15" y2="716.52" stroke="#222" stroke-width="1.4"/>
<line x1="1310.62" y1="699.14" x2="1310.62" y2="716.64" stroke="#222" stroke-width="1.4"/>
<line x1="1404.1" y1="699.25" x2="1404.1" y2="716.75" stroke="#222" stroke-width="1.4"/>
<line x1="1497.58" y1="699.36" x2="1497.58" y2="716.86" stroke="#222" stroke-width="1.4"/>
<line x1="1591.05" y1="699.48" x2="1591.05" y2="716.98" stroke="#222" stroke-width="1.4"/>
<line x1="1684.52" y1="699.59" x2="1684.52" y2="717.09" stroke="#222" stroke-width="1.4"/>
<line x1="1029.8" y1="367.2" x2="1779" y2="368.6" stroke="#1a1a1a" stroke-width="1.5"/>
<line x1="1029.8" y1="716.3" x2="1779" y2="717.2" stroke="#1a1a1a" stroke-width="1.5"/>
<line x1="1030.5" y1="367.2" x2="1030.5" y2="716.3" stroke="#1a1a1a" stroke-width="1.25"/>
<line x1="1778.3" y1="368.6" x2="1778.3" y2="717.2" stroke="#1a1a1a" stroke-width="1.5"/>
<line x1="1128" y1="445.36" x2="1395" y2="445.78" stroke="#fff" stroke-opacity="0.55" stroke-width="3.6"/>
<line x1="1395" y1="445.78" x2="1600" y2="446.11" stroke="#fff" stroke-opacity="0.25" stroke-width="3.6"/>
<line x1="1180" y1="520.34" x2="1320" y2="520.56" stroke="#fff" stroke-opacity="0.4" stroke-width="3.6"/>
<line x1="1306" y1="595.68" x2="1440" y2="595.91" stroke="#fff" stroke-opacity="0.5" stroke-width="3.6"/>
<line x1="1350" y1="672.06" x2="1440" y2="672.21" stroke="#fff" stroke-opacity="0.5" stroke-width="3.6"/>
<polyline fill="none" stroke="#262626" stroke-width="0.9" stroke-dasharray="2.7 2.1" points="1030.9,596.9 1034.62,568.1 1038.33,405.9 1042.05,662.9 1045.76,445.2 1049.48,510.4 1053.19,594.4 1056.91,652.1 1060.62,578.5 1064.34,561.1 1068.05,673.8 1071.77,528 1075.48,640.9 1079.2,591.9 1082.91,529.6 1086.62,632.8 1090.34,621.1 1094.06,519.3 1097.77,629.2 1101.49,454.4 1105.2,405.4 1108.92,483.7 1112.63,604.1 1116.35,529.6 1120.06,678 1123.78,589.9 1127.49,565.3 1131.21,551.4 1134.92,562.3 1138.63,497.4 1142.35,552.7 1146.07,486.5 1149.78,534.3 1153.5,484.5 1157.21,596.4 1160.93,528.5 1164.64,588.5 1168.36,528.8 1172.07,525.1 1175.79,623.1 1179.5,593.5 1183.22,598.6 1186.93,529.6 1190.64,502.1 1194.36,579.8 1198.08,512.1 1201.79,528.5 1205.51,632.5 1209.22,539.7 1212.94,572.3 1216.65,490.9 1220.37,633.7 1224.08,561.4 1227.8,566.4 1231.51,561.4 1235.23,513.8 1238.94,583.5 1242.66,511.6 1246.37,560.3 1250.09,628.2 1253.8,606.1 1257.52,521.3 1261.23,560.3 1264.95,609.8 1268.66,580.2 1272.38,539.2 1276.09,603.6 1279.81,518.4 1283.52,595.7 1287.24,490.7 1290.95,591.9 1294.66,514.3 1298.38,603.6 1302.1,588.5 1305.81,619.5 1309.53,543.9 1313.24,527.5 1316.96,548.5 1320.67,566.4 1324.39,533.5 1328.1,532.7 1331.82,528.2 1335.53,534.7 1339.25,605.4 1342.96,600.4 1346.68,594.5 1350.39,652.7 1354.11,602.1 1357.82,617.5 1361.54,595.1 1365.25,622.5 1368.97,625.5 1372.68,606.3 1376.39,639.4 1380.11,623.8 1383.83,600.1 1387.54,619.3 1391.26,603.7 1394.97,609.3 1398.68,618.8 1402.4,638.9 1406.12,613.8 1409.83,648.1 1413.55,616.8 1417.26,614.6 1420.98,610.4 1424.69,600.7 1428.41,595.4 1432.12,607.9 1435.84,618.8 1439.55,598.7 1443.27,618.8 1446.98,652.6 1450.7,646.1 1454.41,602.9 1458.12,624.6 1461.84,603.7 1465.56,631.8 1469.27,636.7 1472.99,628 1476.7,633.8 1480.41,634.7 1484.13,628 1487.85,638 1491.56,637.2 1495.28,630.5 1498.99,631 1502.71,631.3 1506.42,629.3 1510.13,628.8 1513.85,629.3 1517.57,634.7 1521.28,629.7 1525,631.8 1528.71,633.8 1532.43,636.4 1536.14,629.3 1539.86,633.8 1543.57,631.8 1547.29,629.3 1551,636.7 1554.72,636.4 1558.43,632.2 1562.14,632.2 1565.86,627.2 1569.58,628 1573.29,628.8 1577.01,637.2 1580.72,636.7 1584.43,636.4 1588.15,628 1591.87,626.3 1595.58,631.3 1599.3,636.4 1603.01,628.8 1606.72,636.4 1610.44,635.5 1614.16,630.5 1617.87,629.7 1621.59,628.8 1625.3,628 1629.02,627.2 1632.73,626.3 1636.45,635.5 1640.16,625.5 1643.88,626.3 1647.59,628.8 1651.31,637.2 1655.02,634.7 1658.74,631.3 1662.45,628.8 1666.16,627.2 1669.88,628 1673.6,632.2 1677.31,635.5 1681.03,636.4 1684.74,628.8 1688.45,634.7 1692.17,633.8 1695.89,629.7 1699.6,633.8 1703.32,628.8 1707.03,632.2 1710.75,636.4 1714.46,628.8 1718.18,636.4 1721.89,631.3 1725.61,630.5 1729.32,636.4 1733.04,634.7 1736.75,632.2 1740.47,635.5 1744.18,628.8 1747.89,633.8 1751.61,630.5 1755.33,625.5 1759.04,631.3 1762.76,628.8 1766.47,629.7 1770.18,631.3 1773.9,632.2"/>
<g fill="#000"><circle cx="1030.9" cy="596.9" r="4.62"/><circle cx="1034.62" cy="568.1" r="4.62"/><circle cx="1038.33" cy="405.9" r="4.62"/><circle cx="1042.05" cy="662.9" r="4.62"/><circle cx="1045.76" cy="445.2" r="4.62"/><circle cx="1049.48" cy="510.4" r="4.62"/><circle cx="1053.19" cy="594.4" r="4.62"/><circle cx="1056.91" cy="652.1" r="4.62"/><circle cx="1060.62" cy="578.5" r="4.62"/><circle cx="1064.34" cy="561.1" r="4.62"/><circle cx="1068.05" cy="673.8" r="4.62"/><circle cx="1071.77" cy="528" r="4.62"/><circle cx="1075.48" cy="640.9" r="4.62"/><circle cx="1079.2" cy="591.9" r="4.62"/><circle cx="1082.91" cy="529.6" r="4.62"/><circle cx="1086.62" cy="632.8" r="4.62"/><circle cx="1090.34" cy="621.1" r="4.62"/><circle cx="1094.06" cy="519.3" r="4.62"/><circle cx="1097.77" cy="629.2" r="4.62"/><circle cx="1101.49" cy="454.4" r="4.62"/><circle cx="1105.2" cy="405.4" r="4.62"/><circle cx="1108.92" cy="483.7" r="4.62"/><circle cx="1112.63" cy="604.1" r="4.62"/><circle cx="1116.35" cy="529.6" r="4.62"/><circle cx="1120.06" cy="678" r="4.62"/><circle cx="1123.78" cy="589.9" r="4.62"/><circle cx="1127.49" cy="565.3" r="4.62"/><circle cx="1131.21" cy="551.4" r="4.62"/><circle cx="1134.92" cy="562.3" r="4.62"/><circle cx="1138.63" cy="497.4" r="4.62"/><circle cx="1142.35" cy="552.7" r="4.62"/><circle cx="1146.07" cy="486.5" r="4.62"/><circle cx="1149.78" cy="534.3" r="4.62"/><circle cx="1153.5" cy="484.5" r="4.62"/><circle cx="1157.21" cy="596.4" r="4.62"/><circle cx="1160.93" cy="528.5" r="4.62"/><circle cx="1164.64" cy="588.5" r="4.62"/><circle cx="1168.36" cy="528.8" r="4.62"/><circle cx="1172.07" cy="525.1" r="4.62"/><circle cx="1175.79" cy="623.1" r="4.62"/><circle cx="1179.5" cy="593.5" r="4.62"/><circle cx="1183.22" cy="598.6" r="4.62"/><circle cx="1186.93" cy="529.6" r="4.62"/><circle cx="1190.64" cy="502.1" r="4.62"/><circle cx="1194.36" cy="579.8" r="4.62"/><circle cx="1198.08" cy="512.1" r="4.62"/><circle cx="1201.79" cy="528.5" r="4.62"/><circle cx="1205.51" cy="632.5" r="4.62"/><circle cx="1209.22" cy="539.7" r="4.62"/><circle cx="1212.94" cy="572.3" r="4.62"/><circle cx="1216.65" cy="490.9" r="4.62"/><circle cx="1220.37" cy="633.7" r="4.62"/><circle cx="1224.08" cy="561.4" r="4.62"/><circle cx="1227.8" cy="566.4" r="4.62"/><circle cx="1231.51" cy="561.4" r="4.62"/><circle cx="1235.23" cy="513.8" r="4.62"/><circle cx="1238.94" cy="583.5" r="4.62"/><circle cx="1242.66" cy="511.6" r="4.62"/><circle cx="1246.37" cy="560.3" r="4.62"/><circle cx="1250.09" cy="628.2" r="4.62"/><circle cx="1253.8" cy="606.1" r="4.62"/><circle cx="1257.52" cy="521.3" r="4.62"/><circle cx="1261.23" cy="560.3" r="4.62"/><circle cx="1264.95" cy="609.8" r="4.62"/><circle cx="1268.66" cy="580.2" r="4.62"/><circle cx="1272.38" cy="539.2" r="4.62"/><circle cx="1276.09" cy="603.6" r="4.62"/><circle cx="1279.81" cy="518.4" r="4.62"/><circle cx="1283.52" cy="595.7" r="4.62"/><circle cx="1287.24" cy="490.7" r="4.62"/><circle cx="1290.95" cy="591.9" r="4.62"/><circle cx="1294.66" cy="514.3" r="4.62"/><circle cx="1298.38" cy="603.6" r="4.62"/><circle cx="1302.1" cy="588.5" r="4.62"/><circle cx="1305.81" cy="619.5" r="4.62"/><circle cx="1309.53" cy="543.9" r="4.62"/><circle cx="1313.24" cy="527.5" r="4.62"/><circle cx="1316.96" cy="548.5" r="4.62"/><circle cx="1320.67" cy="566.4" r="4.62"/><circle cx="1324.39" cy="533.5" r="4.62"/><circle cx="1328.1" cy="532.7" r="4.62"/><circle cx="1331.82" cy="528.2" r="4.62"/><circle cx="1335.53" cy="534.7" r="4.62"/><circle cx="1339.25" cy="605.4" r="4.62"/><circle cx="1342.96" cy="600.4" r="4.62"/><circle cx="1346.68" cy="594.5" r="4.62"/><circle cx="1350.39" cy="652.7" r="4.62"/><circle cx="1354.11" cy="602.1" r="4.62"/><circle cx="1357.82" cy="617.5" r="4.62"/><circle cx="1361.54" cy="595.1" r="4.62"/><circle cx="1365.25" cy="622.5" r="4.62"/><circle cx="1368.97" cy="625.5" r="4.62"/><circle cx="1372.68" cy="606.3" r="4.62"/><circle cx="1376.39" cy="639.4" r="4.62"/><circle cx="1380.11" cy="623.8" r="4.62"/><circle cx="1383.83" cy="600.1" r="4.62"/><circle cx="1387.54" cy="619.3" r="4.62"/><circle cx="1391.26" cy="603.7" r="4.62"/><circle cx="1394.97" cy="609.3" r="4.62"/><circle cx="1398.68" cy="618.8" r="4.62"/><circle cx="1402.4" cy="638.9" r="4.62"/><circle cx="1406.12" cy="613.8" r="4.62"/><circle cx="1409.83" cy="648.1" r="4.62"/><circle cx="1413.55" cy="616.8" r="4.62"/><circle cx="1417.26" cy="614.6" r="4.62"/><circle cx="1420.98" cy="610.4" r="4.62"/><circle cx="1424.69" cy="600.7" r="4.62"/><circle cx="1428.41" cy="595.4" r="4.62"/><circle cx="1432.12" cy="607.9" r="4.62"/><circle cx="1435.84" cy="618.8" r="4.62"/><circle cx="1439.55" cy="598.7" r="4.62"/><circle cx="1443.27" cy="618.8" r="4.62"/><circle cx="1446.98" cy="652.6" r="4.62"/><circle cx="1450.7" cy="646.1" r="4.62"/><circle cx="1454.41" cy="602.9" r="4.62"/><circle cx="1458.12" cy="624.6" r="4.62"/><circle cx="1461.84" cy="603.7" r="4.62"/><circle cx="1465.56" cy="631.8" r="4.62"/><circle cx="1469.27" cy="636.7" r="4.62"/><circle cx="1472.99" cy="628" r="4.62"/><circle cx="1476.7" cy="633.8" r="4.62"/><circle cx="1480.41" cy="634.7" r="4.62"/><circle cx="1484.13" cy="628" r="4.62"/><circle cx="1487.85" cy="638" r="4.62"/><circle cx="1491.56" cy="637.2" r="4.62"/><circle cx="1495.28" cy="630.5" r="4.62"/><circle cx="1498.99" cy="631" r="4.62"/><circle cx="1502.71" cy="631.3" r="4.62"/><circle cx="1506.42" cy="629.3" r="4.62"/><circle cx="1510.13" cy="628.8" r="4.62"/><circle cx="1513.85" cy="629.3" r="4.62"/><circle cx="1517.57" cy="634.7" r="4.62"/><circle cx="1521.28" cy="629.7" r="4.62"/><circle cx="1525" cy="631.8" r="4.62"/><circle cx="1528.71" cy="633.8" r="4.62"/><circle cx="1532.43" cy="636.4" r="4.62"/><circle cx="1536.14" cy="629.3" r="4.62"/><circle cx="1539.86" cy="633.8" r="4.62"/><circle cx="1543.57" cy="631.8" r="4.62"/><circle cx="1547.29" cy="629.3" r="4.62"/><circle cx="1551" cy="636.7" r="4.62"/><circle cx="1554.72" cy="636.4" r="4.62"/><circle cx="1558.43" cy="632.2" r="4.62"/><circle cx="1562.14" cy="632.2" r="4.62"/><circle cx="1565.86" cy="627.2" r="4.62"/><circle cx="1569.58" cy="628" r="4.62"/><circle cx="1573.29" cy="628.8" r="4.62"/><circle cx="1577.01" cy="637.2" r="4.62"/><circle cx="1580.72" cy="636.7" r="4.62"/><circle cx="1584.43" cy="636.4" r="4.62"/><circle cx="1588.15" cy="628" r="4.62"/><circle cx="1591.87" cy="626.3" r="4.62"/><circle cx="1595.58" cy="631.3" r="4.62"/><circle cx="1599.3" cy="636.4" r="4.62"/><circle cx="1603.01" cy="628.8" r="4.62"/><circle cx="1606.72" cy="636.4" r="4.62"/><circle cx="1610.44" cy="635.5" r="4.62"/><circle cx="1614.16" cy="630.5" r="4.62"/><circle cx="1617.87" cy="629.7" r="4.62"/><circle cx="1621.59" cy="628.8" r="4.62"/><circle cx="1625.3" cy="628" r="4.62"/><circle cx="1629.02" cy="627.2" r="4.62"/><circle cx="1632.73" cy="626.3" r="4.62"/><circle cx="1636.45" cy="635.5" r="4.62"/><circle cx="1640.16" cy="625.5" r="4.62"/><circle cx="1643.88" cy="626.3" r="4.62"/><circle cx="1647.59" cy="628.8" r="4.62"/><circle cx="1651.31" cy="637.2" r="4.62"/><circle cx="1655.02" cy="634.7" r="4.62"/><circle cx="1658.74" cy="631.3" r="4.62"/><circle cx="1662.45" cy="628.8" r="4.62"/><circle cx="1666.16" cy="627.2" r="4.62"/><circle cx="1669.88" cy="628" r="4.62"/><circle cx="1673.6" cy="632.2" r="4.62"/><circle cx="1677.31" cy="635.5" r="4.62"/><circle cx="1681.03" cy="636.4" r="4.62"/><circle cx="1684.74" cy="628.8" r="4.62"/><circle cx="1688.45" cy="634.7" r="4.62"/><circle cx="1692.17" cy="633.8" r="4.62"/><circle cx="1695.89" cy="629.7" r="4.62"/><circle cx="1699.6" cy="633.8" r="4.62"/><circle cx="1703.32" cy="628.8" r="4.62"/><circle cx="1707.03" cy="632.2" r="4.62"/><circle cx="1710.75" cy="636.4" r="4.62"/><circle cx="1714.46" cy="628.8" r="4.62"/><circle cx="1718.18" cy="636.4" r="4.62"/><circle cx="1721.89" cy="631.3" r="4.62"/><circle cx="1725.61" cy="630.5" r="4.62"/><circle cx="1729.32" cy="636.4" r="4.62"/><circle cx="1733.04" cy="634.7" r="4.62"/><circle cx="1736.75" cy="632.2" r="4.62"/><circle cx="1740.47" cy="635.5" r="4.62"/><circle cx="1744.18" cy="628.8" r="4.62"/><circle cx="1747.89" cy="633.8" r="4.62"/><circle cx="1751.61" cy="630.5" r="4.62"/><circle cx="1755.33" cy="625.5" r="4.62"/><circle cx="1759.04" cy="631.3" r="4.62"/><circle cx="1762.76" cy="628.8" r="4.62"/><circle cx="1766.47" cy="629.7" r="4.62"/><circle cx="1770.18" cy="631.3" r="4.62"/><circle cx="1773.9" cy="632.2" r="4.62"/></g>
<text transform="translate(984.5 384) scale(0.93 1)" text-anchor="middle" font-size="37.7">0.60</text>
<text transform="translate(982 459.2) scale(0.93 1)" text-anchor="middle" font-size="37.7">0.55</text>
<text transform="translate(982.8 533.6) scale(0.93 1)" text-anchor="middle" font-size="37.7">0.50</text>
<text transform="translate(980.6 606.7) scale(0.93 1)" text-anchor="middle" font-size="37.7">0.45</text>
<text transform="translate(982.2 681.6) scale(0.93 1)" text-anchor="middle" font-size="37.7">0.40</text>
</g>
<g id="p5">
<line x1="121.7" y1="803.2" x2="869.8" y2="804.7" stroke="#1e1e1e" stroke-width="1.65" stroke-dasharray="17 8.7" stroke-dashoffset="0"/>
<line x1="121.7" y1="878.4" x2="869.8" y2="879.3" stroke="#1e1e1e" stroke-width="1.65" stroke-dasharray="17 8.7" stroke-dashoffset="0"/>
<line x1="121.7" y1="953.3" x2="869.8" y2="954" stroke="#1e1e1e" stroke-width="1.65" stroke-dasharray="17 8.7" stroke-dashoffset="0"/>
<line x1="121.7" y1="1029.3" x2="869.8" y2="1030.2" stroke="#1e1e1e" stroke-width="1.65" stroke-dasharray="17 8.7" stroke-dashoffset="0"/>
<line x1="214.91" y1="1056.19" x2="214.91" y2="1073.69" stroke="#222" stroke-width="1.4"/>
<line x1="308.42" y1="1056.38" x2="308.42" y2="1073.88" stroke="#222" stroke-width="1.4"/>
<line x1="401.94" y1="1056.56" x2="401.94" y2="1074.06" stroke="#222" stroke-width="1.4"/>
<line x1="495.45" y1="1056.75" x2="495.45" y2="1074.25" stroke="#222" stroke-width="1.4"/>
<line x1="588.96" y1="1056.94" x2="588.96" y2="1074.44" stroke="#222" stroke-width="1.4"/>
<line x1="682.48" y1="1057.12" x2="682.48" y2="1074.62" stroke="#222" stroke-width="1.4"/>
<line x1="775.99" y1="1057.31" x2="775.99" y2="1074.81" stroke="#222" stroke-width="1.4"/>
<line x1="121" y1="725.8" x2="870.5" y2="727.3" stroke="#1a1a1a" stroke-width="1.5"/>
<line x1="121" y1="1073.5" x2="870.5" y2="1075" stroke="#1a1a1a" stroke-width="1.5"/>
<line x1="121.7" y1="725.8" x2="121.7" y2="1073.5" stroke="#1a1a1a" stroke-width="1.5"/>
<line x1="869.8" y1="727.3" x2="869.8" y2="1075" stroke="#1a1a1a" stroke-width="1.5"/>
<line x1="680" y1="804.32" x2="868.5" y2="804.7" stroke="#fff" stroke-opacity="0.45" stroke-width="3.6"/>
<line x1="680" y1="879.07" x2="868.5" y2="879.3" stroke="#fff" stroke-opacity="0.4" stroke-width="3.6"/>
<line x1="123" y1="1029.3" x2="278" y2="1029.49" stroke="#fff" stroke-opacity="0.55" stroke-width="3.6"/>
<line x1="360" y1="1073.98" x2="460" y2="1074.18" stroke="#fff" stroke-opacity="0.4" stroke-width="3.6"/>
<polyline fill="none" stroke="#262626" stroke-width="0.9" stroke-dasharray="2.7 2.1" points="120.5,903.8 124.25,900.4 128.01,885.4 131.76,885.4 135.52,897.9 139.28,893.7 143.03,814.3 146.78,837.7 150.54,856.1 154.3,902.1 158.05,898.8 161.81,915.5 165.56,811.8 169.31,837.4 173.07,831 176.82,871.2 180.58,843.1 184.34,911.6 188.09,809.3 191.84,903.8 195.6,892.9 199.36,875.7 203.11,915.5 206.87,818.8 210.62,889.6 214.38,881.5 218.13,928.9 221.88,889.6 225.64,881.2 229.39,889.6 233.15,881.2 236.91,928.9 240.66,930.5 244.41,921 248.17,818.8 251.92,906.3 255.68,938.1 259.44,971.4 263.19,893.7 266.94,934.7 270.7,905.5 274.45,838.9 278.21,830.7 281.97,871.2 285.72,941.4 289.48,943.9 293.23,900.1 296.99,942.2 300.74,994.5 304.5,917.7 308.25,900.1 312,942.2 315.76,941.4 319.51,932.2 323.27,923 327.02,922.5 330.78,936.4 334.53,935.6 338.29,923.5 342.04,927.2 345.8,926.4 349.56,935.9 353.31,937.7 357.06,921 360.82,921 364.57,917.7 368.33,940.2 372.08,938.1 375.84,940.2 379.59,928.9 383.35,937.2 387.11,918.5 390.86,939.7 394.62,941.4 398.37,927.2 402.12,921.8 405.88,934.7 409.63,937.2 413.39,933 417.14,937 420.9,928.3 424.65,917.7 428.41,925.3 432.16,940.3 435.92,931.4 439.68,941.6 443.43,928.6 447.19,931.4 450.94,915.2 454.69,920.2 458.45,929.4 462.2,918.6 465.96,938.6 469.71,931.9 473.47,917.4 477.22,917.7 480.98,923.6 484.74,927.8 488.49,933.6 492.25,916.9 496,939.5 499.75,922.7 503.51,924.7 507.26,919.4 511.02,931.9 514.77,921.6 518.53,920.2 522.28,934.4 526.04,927.8 529.8,950.3 533.55,946.7 537.31,960.4 541.06,967.1 544.82,922.7 548.57,937 552.33,965.4 556.08,929.9 559.84,958.4 563.59,937 567.35,965.4 571.1,929.9 574.86,958.7 578.61,949.5 582.37,918.6 586.12,975.9 589.88,936.1 593.63,967.9 597.38,944.5 601.14,931.6 604.89,955.4 608.65,949.5 612.4,919.1 616.16,963.7 619.91,931.4 623.67,936.1 627.42,949.5 631.18,923.1 634.93,937.8 638.69,947 642.44,927.3 646.2,926.9 649.96,930.6 653.71,920.2 657.47,930.3 661.22,922.7 664.98,916.1 668.73,931.9 672.49,937 676.24,932.8 680,931.4 683.75,933.6 687.5,937 691.26,947 695.01,926.1 698.77,943.6 702.52,926.1 706.28,945.3 710.03,941.1 713.79,950 717.54,933.6 721.3,946.2 725.05,951.2 728.81,931.9 732.56,942.8 736.32,932.8 740.07,941.6 743.83,938.6 747.59,933.6 751.34,937 755.1,932.8 758.85,930.3 762.61,928.6 766.36,942 770.12,933.6 773.87,935.3 777.62,938.6 781.38,945.3 785.13,942.8 788.89,938.6 792.64,947.8 796.4,942.8 800.15,936.1 803.91,941.1 807.66,947.8 811.42,942.8 815.17,936.1 818.93,943.6 822.68,940.3 826.44,933.6 830.19,935.3 833.95,937.8 837.7,944.5 841.46,945.3 845.22,941.1 848.97,947.8 852.73,952 856.48,939.5 860.24,947 863.99,931.9 867.75,941.1"/>
<g fill="#000"><circle cx="120.5" cy="903.8" r="4.62"/><circle cx="124.25" cy="900.4" r="4.62"/><circle cx="128.01" cy="885.4" r="4.62"/><circle cx="131.76" cy="885.4" r="4.62"/><circle cx="135.52" cy="897.9" r="4.62"/><circle cx="139.28" cy="893.7" r="4.62"/><circle cx="143.03" cy="814.3" r="4.62"/><circle cx="146.78" cy="837.7" r="4.62"/><circle cx="150.54" cy="856.1" r="4.62"/><circle cx="154.3" cy="902.1" r="4.62"/><circle cx="158.05" cy="898.8" r="4.62"/><circle cx="161.81" cy="915.5" r="4.62"/><circle cx="165.56" cy="811.8" r="4.62"/><circle cx="169.31" cy="837.4" r="4.62"/><circle cx="173.07" cy="831" r="4.62"/><circle cx="176.82" cy="871.2" r="4.62"/><circle cx="180.58" cy="843.1" r="4.62"/><circle cx="184.34" cy="911.6" r="4.62"/><circle cx="188.09" cy="809.3" r="4.62"/><circle cx="191.84" cy="903.8" r="4.62"/><circle cx="195.6" cy="892.9" r="4.62"/><circle cx="199.36" cy="875.7" r="4.62"/><circle cx="203.11" cy="915.5" r="4.62"/><circle cx="206.87" cy="818.8" r="4.62"/><circle cx="210.62" cy="889.6" r="4.62"/><circle cx="214.38" cy="881.5" r="4.62"/><circle cx="218.13" cy="928.9" r="4.62"/><circle cx="221.88" cy="889.6" r="4.62"/><circle cx="225.64" cy="881.2" r="4.62"/><circle cx="229.39" cy="889.6" r="4.62"/><circle cx="233.15" cy="881.2" r="4.62"/><circle cx="236.91" cy="928.9" r="4.62"/><circle cx="240.66" cy="930.5" r="4.62"/><circle cx="244.41" cy="921" r="4.62"/><circle cx="248.17" cy="818.8" r="4.62"/><circle cx="251.92" cy="906.3" r="4.62"/><circle cx="255.68" cy="938.1" r="4.62"/><circle cx="259.44" cy="971.4" r="4.62"/><circle cx="263.19" cy="893.7" r="4.62"/><circle cx="266.94" cy="934.7" r="4.62"/><circle cx="270.7" cy="905.5" r="4.62"/><circle cx="274.45" cy="838.9" r="4.62"/><circle cx="278.21" cy="830.7" r="4.62"/><circle cx="281.97" cy="871.2" r="4.62"/><circle cx="285.72" cy="941.4" r="4.62"/><circle cx="289.48" cy="943.9" r="4.62"/><circle cx="293.23" cy="900.1" r="4.62"/><circle cx="296.99" cy="942.2" r="4.62"/><circle cx="300.74" cy="994.5" r="4.62"/><circle cx="304.5" cy="917.7" r="4.62"/><circle cx="308.25" cy="900.1" r="4.62"/><circle cx="312" cy="942.2" r="4.62"/><circle cx="315.76" cy="941.4" r="4.62"/><circle cx="319.51" cy="932.2" r="4.62"/><circle cx="323.27" cy="923" r="4.62"/><circle cx="327.02" cy="922.5" r="4.62"/><circle cx="330.78" cy="936.4" r="4.62"/><circle cx="334.53" cy="935.6" r="4.62"/><circle cx="338.29" cy="923.5" r="4.62"/><circle cx="342.04" cy="927.2" r="4.62"/><circle cx="345.8" cy="926.4" r="4.62"/><circle cx="349.56" cy="935.9" r="4.62"/><circle cx="353.31" cy="937.7" r="4.62"/><circle cx="357.06" cy="921" r="4.62"/><circle cx="360.82" cy="921" r="4.62"/><circle cx="364.57" cy="917.7" r="4.62"/><circle cx="368.33" cy="940.2" r="4.62"/><circle cx="372.08" cy="938.1" r="4.62"/><circle cx="375.84" cy="940.2" r="4.62"/><circle cx="379.59" cy="928.9" r="4.62"/><circle cx="383.35" cy="937.2" r="4.62"/><circle cx="387.11" cy="918.5" r="4.62"/><circle cx="390.86" cy="939.7" r="4.62"/><circle cx="394.62" cy="941.4" r="4.62"/><circle cx="398.37" cy="927.2" r="4.62"/><circle cx="402.12" cy="921.8" r="4.62"/><circle cx="405.88" cy="934.7" r="4.62"/><circle cx="409.63" cy="937.2" r="4.62"/><circle cx="413.39" cy="933" r="4.62"/><circle cx="417.14" cy="937" r="4.62"/><circle cx="420.9" cy="928.3" r="4.62"/><circle cx="424.65" cy="917.7" r="4.62"/><circle cx="428.41" cy="925.3" r="4.62"/><circle cx="432.16" cy="940.3" r="4.62"/><circle cx="435.92" cy="931.4" r="4.62"/><circle cx="439.68" cy="941.6" r="4.62"/><circle cx="443.43" cy="928.6" r="4.62"/><circle cx="447.19" cy="931.4" r="4.62"/><circle cx="450.94" cy="915.2" r="4.62"/><circle cx="454.69" cy="920.2" r="4.62"/><circle cx="458.45" cy="929.4" r="4.62"/><circle cx="462.2" cy="918.6" r="4.62"/><circle cx="465.96" cy="938.6" r="4.62"/><circle cx="469.71" cy="931.9" r="4.62"/><circle cx="473.47" cy="917.4" r="4.62"/><circle cx="477.22" cy="917.7" r="4.62"/><circle cx="480.98" cy="923.6" r="4.62"/><circle cx="484.74" cy="927.8" r="4.62"/><circle cx="488.49" cy="933.6" r="4.62"/><circle cx="492.25" cy="916.9" r="4.62"/><circle cx="496" cy="939.5" r="4.62"/><circle cx="499.75" cy="922.7" r="4.62"/><circle cx="503.51" cy="924.7" r="4.62"/><circle cx="507.26" cy="919.4" r="4.62"/><circle cx="511.02" cy="931.9" r="4.62"/><circle cx="514.77" cy="921.6" r="4.62"/><circle cx="518.53" cy="920.2" r="4.62"/><circle cx="522.28" cy="934.4" r="4.62"/><circle cx="526.04" cy="927.8" r="4.62"/><circle cx="529.8" cy="950.3" r="4.62"/><circle cx="533.55" cy="946.7" r="4.62"/><circle cx="537.31" cy="960.4" r="4.62"/><circle cx="541.06" cy="967.1" r="4.62"/><circle cx="544.82" cy="922.7" r="4.62"/><circle cx="548.57" cy="937" r="4.62"/><circle cx="552.33" cy="965.4" r="4.62"/><circle cx="556.08" cy="929.9" r="4.62"/><circle cx="559.84" cy="958.4" r="4.62"/><circle cx="563.59" cy="937" r="4.62"/><circle cx="567.35" cy="965.4" r="4.62"/><circle cx="571.1" cy="929.9" r="4.62"/><circle cx="574.86" cy="958.7" r="4.62"/><circle cx="578.61" cy="949.5" r="4.62"/><circle cx="582.37" cy="918.6" r="4.62"/><circle cx="586.12" cy="975.9" r="4.62"/><circle cx="589.88" cy="936.1" r="4.62"/><circle cx="593.63" cy="967.9" r="4.62"/><circle cx="597.38" cy="944.5" r="4.62"/><circle cx="601.14" cy="931.6" r="4.62"/><circle cx="604.89" cy="955.4" r="4.62"/><circle cx="608.65" cy="949.5" r="4.62"/><circle cx="612.4" cy="919.1" r="4.62"/><circle cx="616.16" cy="963.7" r="4.62"/><circle cx="619.91" cy="931.4" r="4.62"/><circle cx="623.67" cy="936.1" r="4.62"/><circle cx="627.42" cy="949.5" r="4.62"/><circle cx="631.18" cy="923.1" r="4.62"/><circle cx="634.93" cy="937.8" r="4.62"/><circle cx="638.69" cy="947" r="4.62"/><circle cx="642.44" cy="927.3" r="4.62"/><circle cx="646.2" cy="926.9" r="4.62"/><circle cx="649.96" cy="930.6" r="4.62"/><circle cx="653.71" cy="920.2" r="4.62"/><circle cx="657.47" cy="930.3" r="4.62"/><circle cx="661.22" cy="922.7" r="4.62"/><circle cx="664.98" cy="916.1" r="4.62"/><circle cx="668.73" cy="931.9" r="4.62"/><circle cx="672.49" cy="937" r="4.62"/><circle cx="676.24" cy="932.8" r="4.62"/><circle cx="680" cy="931.4" r="4.62"/><circle cx="683.75" cy="933.6" r="4.62"/><circle cx="687.5" cy="937" r="4.62"/><circle cx="691.26" cy="947" r="4.62"/><circle cx="695.01" cy="926.1" r="4.62"/><circle cx="698.77" cy="943.6" r="4.62"/><circle cx="702.52" cy="926.1" r="4.62"/><circle cx="706.28" cy="945.3" r="4.62"/><circle cx="710.03" cy="941.1" r="4.62"/><circle cx="713.79" cy="950" r="4.62"/><circle cx="717.54" cy="933.6" r="4.62"/><circle cx="721.3" cy="946.2" r="4.62"/><circle cx="725.05" cy="951.2" r="4.62"/><circle cx="728.81" cy="931.9" r="4.62"/><circle cx="732.56" cy="942.8" r="4.62"/><circle cx="736.32" cy="932.8" r="4.62"/><circle cx="740.07" cy="941.6" r="4.62"/><circle cx="743.83" cy="938.6" r="4.62"/><circle cx="747.59" cy="933.6" r="4.62"/><circle cx="751.34" cy="937" r="4.62"/><circle cx="755.1" cy="932.8" r="4.62"/><circle cx="758.85" cy="930.3" r="4.62"/><circle cx="762.61" cy="928.6" r="4.62"/><circle cx="766.36" cy="942" r="4.62"/><circle cx="770.12" cy="933.6" r="4.62"/><circle cx="773.87" cy="935.3" r="4.62"/><circle cx="777.62" cy="938.6" r="4.62"/><circle cx="781.38" cy="945.3" r="4.62"/><circle cx="785.13" cy="942.8" r="4.62"/><circle cx="788.89" cy="938.6" r="4.62"/><circle cx="792.64" cy="947.8" r="4.62"/><circle cx="796.4" cy="942.8" r="4.62"/><circle cx="800.15" cy="936.1" r="4.62"/><circle cx="803.91" cy="941.1" r="4.62"/><circle cx="807.66" cy="947.8" r="4.62"/><circle cx="811.42" cy="942.8" r="4.62"/><circle cx="815.17" cy="936.1" r="4.62"/><circle cx="818.93" cy="943.6" r="4.62"/><circle cx="822.68" cy="940.3" r="4.62"/><circle cx="826.44" cy="933.6" r="4.62"/><circle cx="830.19" cy="935.3" r="4.62"/><circle cx="833.95" cy="937.8" r="4.62"/><circle cx="837.7" cy="944.5" r="4.62"/><circle cx="841.46" cy="945.3" r="4.62"/><circle cx="845.22" cy="941.1" r="4.62"/><circle cx="848.97" cy="947.8" r="4.62"/><circle cx="852.73" cy="952" r="4.62"/><circle cx="856.48" cy="939.5" r="4.62"/><circle cx="860.24" cy="947" r="4.62"/><circle cx="863.99" cy="931.9" r="4.62"/><circle cx="867.75" cy="941.1" r="4.62"/></g>
<text transform="translate(81 740.6) scale(0.93 1)" text-anchor="middle" font-size="37.7">0.80</text>
<text transform="translate(80.6 818) scale(0.93 1)" text-anchor="middle" font-size="37.7">0.75</text>
<text transform="translate(79.6 891.3) scale(0.93 1)" text-anchor="middle" font-size="37.7">0.70</text>
<text transform="translate(78.4 963) scale(0.93 1)" text-anchor="middle" font-size="37.7">0.65</text>
<text transform="translate(79.6 1038.2) scale(0.93 1)" text-anchor="middle" font-size="37.7">0.60</text>
</g>
<g id="p6">
<line x1="1030.5" y1="803.3" x2="1778.5" y2="804.5" stroke="#1e1e1e" stroke-width="1.65" stroke-dasharray="17 8.7" stroke-dashoffset="0"/>
<line x1="1030.5" y1="878.5" x2="1778.5" y2="879.8" stroke="#1e1e1e" stroke-width="1.65" stroke-dasharray="17 8.7" stroke-dashoffset="0"/>
<line x1="1030.5" y1="953.4" x2="1778.5" y2="954.6" stroke="#1e1e1e" stroke-width="1.65" stroke-dasharray="17 8.7" stroke-dashoffset="0"/>
<line x1="1030.5" y1="1029.2" x2="1778.5" y2="1030" stroke="#1e1e1e" stroke-width="1.65" stroke-dasharray="17 8.7" stroke-dashoffset="0"/>
<line x1="1123.7" y1="1055.4" x2="1123.7" y2="1072.9" stroke="#222" stroke-width="1.4"/>
<line x1="1217.2" y1="1055.5" x2="1217.2" y2="1073" stroke="#222" stroke-width="1.4"/>
<line x1="1310.7" y1="1055.6" x2="1310.7" y2="1073.1" stroke="#222" stroke-width="1.4"/>
<line x1="1404.2" y1="1055.7" x2="1404.2" y2="1073.2" stroke="#222" stroke-width="1.4"/>
<line x1="1497.7" y1="1055.8" x2="1497.7" y2="1073.3" stroke="#222" stroke-width="1.4"/>
<line x1="1591.2" y1="1055.9" x2="1591.2" y2="1073.4" stroke="#222" stroke-width="1.4"/>
<line x1="1684.7" y1="1056" x2="1684.7" y2="1073.5" stroke="#222" stroke-width="1.4"/>
<line x1="1029.8" y1="725.3" x2="1779.2" y2="726.5" stroke="#1a1a1a" stroke-width="1.5"/>
<line x1="1029.8" y1="1072.8" x2="1779.2" y2="1073.6" stroke="#1a1a1a" stroke-width="1.5"/>
<line x1="1030.5" y1="725.3" x2="1030.5" y2="1072.8" stroke="#1a1a1a" stroke-width="1.25"/>
<line x1="1778.5" y1="726.5" x2="1778.5" y2="1073.6" stroke="#1a1a1a" stroke-width="1.5"/>
<line x1="1484" y1="804.03" x2="1707" y2="804.39" stroke="#fff" stroke-opacity="0.5" stroke-width="3.6"/>
<line x1="1484" y1="879.29" x2="1752" y2="879.75" stroke="#fff" stroke-opacity="0.45" stroke-width="3.6"/>
<line x1="1520" y1="954.19" x2="1777.2" y2="954.6" stroke="#fff" stroke-opacity="0.35" stroke-width="3.6"/>
<line x1="1031.8" y1="1029.2" x2="1172" y2="1029.35" stroke="#fff" stroke-opacity="0.55" stroke-width="3.6"/>
<line x1="1031.8" y1="725.3" x2="1130" y2="725.46" stroke="#fff" stroke-opacity="0.55" stroke-width="3.6"/>
<line x1="1030.5" y1="726.5" x2="1030.5" y2="1071.6" stroke="#fff" stroke-opacity="0.4" stroke-width="3.4"/>
<polyline fill="none" stroke="#262626" stroke-width="0.9" stroke-dasharray="2.7 2.1" points="1033.7,907.7 1037.44,878 1041.19,833.6 1044.93,766.4 1048.68,765.4 1052.42,897.7 1056.16,764.7 1059.91,766.8 1063.65,844 1067.4,793.2 1071.14,900.2 1074.88,854.5 1078.63,773.4 1082.37,793.8 1086.12,765.9 1089.86,816.6 1093.6,917.6 1097.35,784.3 1101.09,770.4 1104.84,812.4 1108.58,798.9 1112.32,801.5 1116.07,859.1 1119.81,816.6 1123.56,895.9 1127.3,807.7 1131.04,918.6 1134.79,878 1138.53,915.6 1142.28,907.2 1146.02,788.5 1149.76,809.9 1153.51,871.8 1157.25,767.6 1161,917.6 1164.74,851.5 1168.48,860.9 1172.23,798.5 1175.97,793.2 1179.72,893 1183.46,843.3 1187.2,850.4 1190.95,817.8 1194.69,807.4 1198.44,834.1 1202.18,878.5 1205.92,849.5 1209.67,849 1213.41,896.7 1217.16,904.7 1220.9,841.7 1224.64,893.5 1228.39,867.9 1232.13,923.6 1235.88,887.2 1239.62,923.1 1243.36,882.1 1247.11,840.8 1250.85,834 1254.6,908.9 1258.34,878 1262.08,959.9 1265.83,925.6 1269.57,941.5 1273.32,885.2 1277.06,923.1 1280.8,873.3 1284.55,949.4 1288.29,941 1292.04,952.7 1295.78,954.1 1299.52,877.6 1303.27,908.1 1307.01,910.9 1310.76,953.1 1314.5,879.1 1318.24,903 1321.99,931.8 1325.73,915.3 1329.48,926.5 1333.22,960.4 1336.96,943.7 1340.71,955.1 1344.45,948.7 1348.2,943.4 1351.94,925 1355.68,963.3 1359.43,873.8 1363.17,870.1 1366.92,917.3 1370.66,917.3 1374.4,933.2 1378.15,874.3 1381.89,930 1385.64,956.8 1389.38,887.2 1393.12,927.5 1396.87,943.4 1400.61,926.5 1404.36,958.4 1408.1,954.6 1411.84,944.2 1415.59,906.4 1419.33,904.7 1423.08,910.6 1426.82,941.5 1430.56,934.5 1434.31,930.8 1438.05,915.6 1441.8,940 1445.54,913.1 1449.28,941.7 1453.03,915.6 1456.77,924 1460.52,923.1 1464.26,968.3 1468,953.7 1471.75,952.9 1475.49,930.8 1479.24,937 1482.98,945.4 1486.72,941.2 1490.47,990.9 1494.21,974.3 1497.96,960.9 1501.7,965.1 1505.44,968.5 1509.19,969.6 1512.93,969.6 1516.68,972.1 1520.42,969.1 1524.16,968 1527.91,963.4 1531.65,963.8 1535.4,966.8 1539.14,971 1542.88,964.6 1546.63,968 1550.37,971.3 1554.12,961.3 1557.86,963.8 1561.6,968 1565.35,973.5 1569.09,968.8 1572.84,965.1 1576.58,963.8 1580.32,974.6 1584.07,961.3 1587.81,965.1 1591.56,968 1595.3,969.1 1599.04,969.1 1602.79,972.1 1606.53,968.8 1610.28,966.3 1614.02,962.9 1617.76,963.8 1621.51,967.1 1625.25,971.3 1629,963.8 1632.74,968 1636.48,971.8 1640.23,960.4 1643.97,962.1 1647.72,967.1 1651.46,966.3 1655.2,968.8 1658.95,973.8 1662.69,971.3 1666.44,968.8 1670.18,973 1673.92,962.9 1677.67,973 1681.41,973.5 1685.16,973.8 1688.9,972.1 1692.64,969.6 1696.39,972.1 1700.13,962.1 1703.88,969.6 1707.62,973.5 1711.36,962.1 1715.11,960.8 1718.85,968.8 1722.6,974.6 1726.34,971.3 1730.08,968.8 1733.83,966.3 1737.57,972.1 1741.32,968 1745.06,965.5 1748.8,972.1 1752.55,974.6 1756.29,971.3 1760.04,970.5 1763.78,969.6 1767.52,968 1771.27,974.6 1775.01,970.5 1778.76,963.8"/>
<g fill="#000"><circle cx="1033.7" cy="907.7" r="4.62"/><circle cx="1037.44" cy="878" r="4.62"/><circle cx="1041.19" cy="833.6" r="4.62"/><circle cx="1044.93" cy="766.4" r="4.62"/><circle cx="1048.68" cy="765.4" r="4.62"/><circle cx="1052.42" cy="897.7" r="4.62"/><circle cx="1056.16" cy="764.7" r="4.62"/><circle cx="1059.91" cy="766.8" r="4.62"/><circle cx="1063.65" cy="844" r="4.62"/><circle cx="1067.4" cy="793.2" r="4.62"/><circle cx="1071.14" cy="900.2" r="4.62"/><circle cx="1074.88" cy="854.5" r="4.62"/><circle cx="1078.63" cy="773.4" r="4.62"/><circle cx="1082.37" cy="793.8" r="4.62"/><circle cx="1086.12" cy="765.9" r="4.62"/><circle cx="1089.86" cy="816.6" r="4.62"/><circle cx="1093.6" cy="917.6" r="4.62"/><circle cx="1097.35" cy="784.3" r="4.62"/><circle cx="1101.09" cy="770.4" r="4.62"/><circle cx="1104.84" cy="812.4" r="4.62"/><circle cx="1108.58" cy="798.9" r="4.62"/><circle cx="1112.32" cy="801.5" r="4.62"/><circle cx="1116.07" cy="859.1" r="4.62"/><circle cx="1119.81" cy="816.6" r="4.62"/><circle cx="1123.56" cy="895.9" r="4.62"/><circle cx="1127.3" cy="807.7" r="4.62"/><circle cx="1131.04" cy="918.6" r="4.62"/><circle cx="1134.79" cy="878" r="4.62"/><circle cx="1138.53" cy="915.6" r="4.62"/><circle cx="1142.28" cy="907.2" r="4.62"/><circle cx="1146.02" cy="788.5" r="4.62"/><circle cx="1149.76" cy="809.9" r="4.62"/><circle cx="1153.51" cy="871.8" r="4.62"/><circle cx="1157.25" cy="767.6" r="4.62"/><circle cx="1161" cy="917.6" r="4.62"/><circle cx="1164.74" cy="851.5" r="4.62"/><circle cx="1168.48" cy="860.9" r="4.62"/><circle cx="1172.23" cy="798.5" r="4.62"/><circle cx="1175.97" cy="793.2" r="4.62"/><circle cx="1179.72" cy="893" r="4.62"/><circle cx="1183.46" cy="843.3" r="4.62"/><circle cx="1187.2" cy="850.4" r="4.62"/><circle cx="1190.95" cy="817.8" r="4.62"/><circle cx="1194.69" cy="807.4" r="4.62"/><circle cx="1198.44" cy="834.1" r="4.62"/><circle cx="1202.18" cy="878.5" r="4.62"/><circle cx="1205.92" cy="849.5" r="4.62"/><circle cx="1209.67" cy="849" r="4.62"/><circle cx="1213.41" cy="896.7" r="4.62"/><circle cx="1217.16" cy="904.7" r="4.62"/><circle cx="1220.9" cy="841.7" r="4.62"/><circle cx="1224.64" cy="893.5" r="4.62"/><circle cx="1228.39" cy="867.9" r="4.62"/><circle cx="1232.13" cy="923.6" r="4.62"/><circle cx="1235.88" cy="887.2" r="4.62"/><circle cx="1239.62" cy="923.1" r="4.62"/><circle cx="1243.36" cy="882.1" r="4.62"/><circle cx="1247.11" cy="840.8" r="4.62"/><circle cx="1250.85" cy="834" r="4.62"/><circle cx="1254.6" cy="908.9" r="4.62"/><circle cx="1258.34" cy="878" r="4.62"/><circle cx="1262.08" cy="959.9" r="4.62"/><circle cx="1265.83" cy="925.6" r="4.62"/><circle cx="1269.57" cy="941.5" r="4.62"/><circle cx="1273.32" cy="885.2" r="4.62"/><circle cx="1277.06" cy="923.1" r="4.62"/><circle cx="1280.8" cy="873.3" r="4.62"/><circle cx="1284.55" cy="949.4" r="4.62"/><circle cx="1288.29" cy="941" r="4.62"/><circle cx="1292.04" cy="952.7" r="4.62"/><circle cx="1295.78" cy="954.1" r="4.62"/><circle cx="1299.52" cy="877.6" r="4.62"/><circle cx="1303.27" cy="908.1" r="4.62"/><circle cx="1307.01" cy="910.9" r="4.62"/><circle cx="1310.76" cy="953.1" r="4.62"/><circle cx="1314.5" cy="879.1" r="4.62"/><circle cx="1318.24" cy="903" r="4.62"/><circle cx="1321.99" cy="931.8" r="4.62"/><circle cx="1325.73" cy="915.3" r="4.62"/><circle cx="1329.48" cy="926.5" r="4.62"/><circle cx="1333.22" cy="960.4" r="4.62"/><circle cx="1336.96" cy="943.7" r="4.62"/><circle cx="1340.71" cy="955.1" r="4.62"/><circle cx="1344.45" cy="948.7" r="4.62"/><circle cx="1348.2" cy="943.4" r="4.62"/><circle cx="1351.94" cy="925" r="4.62"/><circle cx="1355.68" cy="963.3" r="4.62"/><circle cx="1359.43" cy="873.8" r="4.62"/><circle cx="1363.17" cy="870.1" r="4.62"/><circle cx="1366.92" cy="917.3" r="4.62"/><circle cx="1370.66" cy="917.3" r="4.62"/><circle cx="1374.4" cy="933.2" r="4.62"/><circle cx="1378.15" cy="874.3" r="4.62"/><circle cx="1381.89" cy="930" r="4.62"/><circle cx="1385.64" cy="956.8" r="4.62"/><circle cx="1389.38" cy="887.2" r="4.62"/><circle cx="1393.12" cy="927.5" r="4.62"/><circle cx="1396.87" cy="943.4" r="4.62"/><circle cx="1400.61" cy="926.5" r="4.62"/><circle cx="1404.36" cy="958.4" r="4.62"/><circle cx="1408.1" cy="954.6" r="4.62"/><circle cx="1411.84" cy="944.2" r="4.62"/><circle cx="1415.59" cy="906.4" r="4.62"/><circle cx="1419.33" cy="904.7" r="4.62"/><circle cx="1423.08" cy="910.6" r="4.62"/><circle cx="1426.82" cy="941.5" r="4.62"/><circle cx="1430.56" cy="934.5" r="4.62"/><circle cx="1434.31" cy="930.8" r="4.62"/><circle cx="1438.05" cy="915.6" r="4.62"/><circle cx="1441.8" cy="940" r="4.62"/><circle cx="1445.54" cy="913.1" r="4.62"/><circle cx="1449.28" cy="941.7" r="4.62"/><circle cx="1453.03" cy="915.6" r="4.62"/><circle cx="1456.77" cy="924" r="4.62"/><circle cx="1460.52" cy="923.1" r="4.62"/><circle cx="1464.26" cy="968.3" r="4.62"/><circle cx="1468" cy="953.7" r="4.62"/><circle cx="1471.75" cy="952.9" r="4.62"/><circle cx="1475.49" cy="930.8" r="4.62"/><circle cx="1479.24" cy="937" r="4.62"/><circle cx="1482.98" cy="945.4" r="4.62"/><circle cx="1486.72" cy="941.2" r="4.62"/><circle cx="1490.47" cy="990.9" r="4.62"/><circle cx="1494.21" cy="974.3" r="4.62"/><circle cx="1497.96" cy="960.9" r="4.62"/><circle cx="1501.7" cy="965.1" r="4.62"/><circle cx="1505.44" cy="968.5" r="4.62"/><circle cx="1509.19" cy="969.6" r="4.62"/><circle cx="1512.93" cy="969.6" r="4.62"/><circle cx="1516.68" cy="972.1" r="4.62"/><circle cx="1520.42" cy="969.1" r="4.62"/><circle cx="1524.16" cy="968" r="4.62"/><circle cx="1527.91" cy="963.4" r="4.62"/><circle cx="1531.65" cy="963.8" r="4.62"/><circle cx="1535.4" cy="966.8" r="4.62"/><circle cx="1539.14" cy="971" r="4.62"/><circle cx="1542.88" cy="964.6" r="4.62"/><circle cx="1546.63" cy="968" r="4.62"/><circle cx="1550.37" cy="971.3" r="4.62"/><circle cx="1554.12" cy="961.3" r="4.62"/><circle cx="1557.86" cy="963.8" r="4.62"/><circle cx="1561.6" cy="968" r="4.62"/><circle cx="1565.35" cy="973.5" r="4.62"/><circle cx="1569.09" cy="968.8" r="4.62"/><circle cx="1572.84" cy="965.1" r="4.62"/><circle cx="1576.58" cy="963.8" r="4.62"/><circle cx="1580.32" cy="974.6" r="4.62"/><circle cx="1584.07" cy="961.3" r="4.62"/><circle cx="1587.81" cy="965.1" r="4.62"/><circle cx="1591.56" cy="968" r="4.62"/><circle cx="1595.3" cy="969.1" r="4.62"/><circle cx="1599.04" cy="969.1" r="4.62"/><circle cx="1602.79" cy="972.1" r="4.62"/><circle cx="1606.53" cy="968.8" r="4.62"/><circle cx="1610.28" cy="966.3" r="4.62"/><circle cx="1614.02" cy="962.9" r="4.62"/><circle cx="1617.76" cy="963.8" r="4.62"/><circle cx="1621.51" cy="967.1" r="4.62"/><circle cx="1625.25" cy="971.3" r="4.62"/><circle cx="1629" cy="963.8" r="4.62"/><circle cx="1632.74" cy="968" r="4.62"/><circle cx="1636.48" cy="971.8" r="4.62"/><circle cx="1640.23" cy="960.4" r="4.62"/><circle cx="1643.97" cy="962.1" r="4.62"/><circle cx="1647.72" cy="967.1" r="4.62"/><circle cx="1651.46" cy="966.3" r="4.62"/><circle cx="1655.2" cy="968.8" r="4.62"/><circle cx="1658.95" cy="973.8" r="4.62"/><circle cx="1662.69" cy="971.3" r="4.62"/><circle cx="1666.44" cy="968.8" r="4.62"/><circle cx="1670.18" cy="973" r="4.62"/><circle cx="1673.92" cy="962.9" r="4.62"/><circle cx="1677.67" cy="973" r="4.62"/><circle cx="1681.41" cy="973.5" r="4.62"/><circle cx="1685.16" cy="973.8" r="4.62"/><circle cx="1688.9" cy="972.1" r="4.62"/><circle cx="1692.64" cy="969.6" r="4.62"/><circle cx="1696.39" cy="972.1" r="4.62"/><circle cx="1700.13" cy="962.1" r="4.62"/><circle cx="1703.88" cy="969.6" r="4.62"/><circle cx="1707.62" cy="973.5" r="4.62"/><circle cx="1711.36" cy="962.1" r="4.62"/><circle cx="1715.11" cy="960.8" r="4.62"/><circle cx="1718.85" cy="968.8" r="4.62"/><circle cx="1722.6" cy="974.6" r="4.62"/><circle cx="1726.34" cy="971.3" r="4.62"/><circle cx="1730.08" cy="968.8" r="4.62"/><circle cx="1733.83" cy="966.3" r="4.62"/><circle cx="1737.57" cy="972.1" r="4.62"/><circle cx="1741.32" cy="968" r="4.62"/><circle cx="1745.06" cy="965.5" r="4.62"/><circle cx="1748.8" cy="972.1" r="4.62"/><circle cx="1752.55" cy="974.6" r="4.62"/><circle cx="1756.29" cy="971.3" r="4.62"/><circle cx="1760.04" cy="970.5" r="4.62"/><circle cx="1763.78" cy="969.6" r="4.62"/><circle cx="1767.52" cy="968" r="4.62"/><circle cx="1771.27" cy="974.6" r="4.62"/><circle cx="1775.01" cy="970.5" r="4.62"/><circle cx="1778.76" cy="963.8" r="4.62"/></g>
<text transform="translate(984.1 743.7) scale(0.93 1)" text-anchor="middle" font-size="37.7">25</text>
<text transform="translate(984.1 818.1) scale(0.93 1)" text-anchor="middle" font-size="37.7">20</text>
<text transform="translate(984.3 890.8) scale(0.93 1)" text-anchor="middle" font-size="37.7">15</text>
<text transform="translate(984.3 964.5) scale(0.93 1)" text-anchor="middle" font-size="37.7">10</text>
<text transform="translate(985 1041.2) scale(0.93 1)" text-anchor="middle" font-size="37.7">5</text>
</g>
<g id="titles">
<text transform="translate(33.2 263.2) rotate(-90) scale(0.93 1)" font-size="37.7"><tspan class="i">n</tspan><tspan class="i" font-size="24.0" dy="3.6">e</tspan><tspan dy="-3.6"> (r/min)</tspan></text>
<text transform="translate(33.2 592) rotate(-90) scale(0.93 1)" font-size="37.7"><tspan class="i">T</tspan><tspan class="i" font-size="24.0" dy="3.6">e</tspan><tspan dy="-3.6"> (Nm)</tspan></text>
<text transform="translate(24.7 912.3) rotate(-90) scale(0.93 1)" font-size="37.7"><tspan class="i">C</tspan><tspan class="i" font-size="24.0" dy="4" dx="-1">fuel-ele</tspan></text>
<text transform="translate(938.8 214) rotate(-90) scale(0.93 1)" font-size="29.4"><tspan class="i">SoC</tspan><tspan class="i" font-size="18.6" dy="3.8">H<tspan fill="#999">_</tspan>0</tspan></text>
<text transform="translate(938.8 561.7) rotate(-90) scale(0.93 1)" font-size="29.4"><tspan class="i">SoC</tspan><tspan class="i" font-size="18.6" dy="3.8">L<tspan fill="#999">_</tspan>0</tspan></text>
<text transform="translate(948.5 941.2) rotate(-90) scale(0.93 1)" font-size="37.7"><tspan class="i">Q</tspan><tspan class="i" font-size="24.0" dy="3.4">loss</tspan><tspan dy="-3.4"> (%)</tspan></text>
<text transform="translate(120.3 1111.3) scale(0.93 1)" text-anchor="middle" font-size="37.7">0</text>
<text transform="translate(309.4 1118.7) scale(0.93 1)" text-anchor="middle" font-size="37.7">50</text>
<text transform="translate(495.6 1118.7) scale(0.93 1)" text-anchor="middle" font-size="37.7">100</text>
<text transform="translate(683.9 1118.7) scale(0.93 1)" text-anchor="middle" font-size="37.7">150</text>
<text transform="translate(868 1118.5) scale(0.93 1)" text-anchor="middle" font-size="37.7">200</text>
<text transform="translate(1032 1109.2) scale(0.93 1)" text-anchor="middle" font-size="37.7">0</text>
<text transform="translate(1216.9 1116.8) scale(0.93 1)" text-anchor="middle" font-size="37.7">50</text>
<text transform="translate(1401.4 1116.8) scale(0.93 1)" text-anchor="middle" font-size="37.7">100</text>
<text transform="translate(1588.7 1116.8) scale(0.93 1)" text-anchor="middle" font-size="37.7">150</text>
<text transform="translate(1766.6 1116.8) scale(0.93 1)" text-anchor="middle" font-size="37.7">200</text>
<text transform="translate(492.5 1162) scale(0.944 1)" text-anchor="middle" font-size="37.7">Generation of evolution</text>
<text transform="translate(1401.7 1161.6) scale(0.944 1)" text-anchor="middle" font-size="37.7">Generation of evolution</text>
</g>
</svg>
</body>
</html>
